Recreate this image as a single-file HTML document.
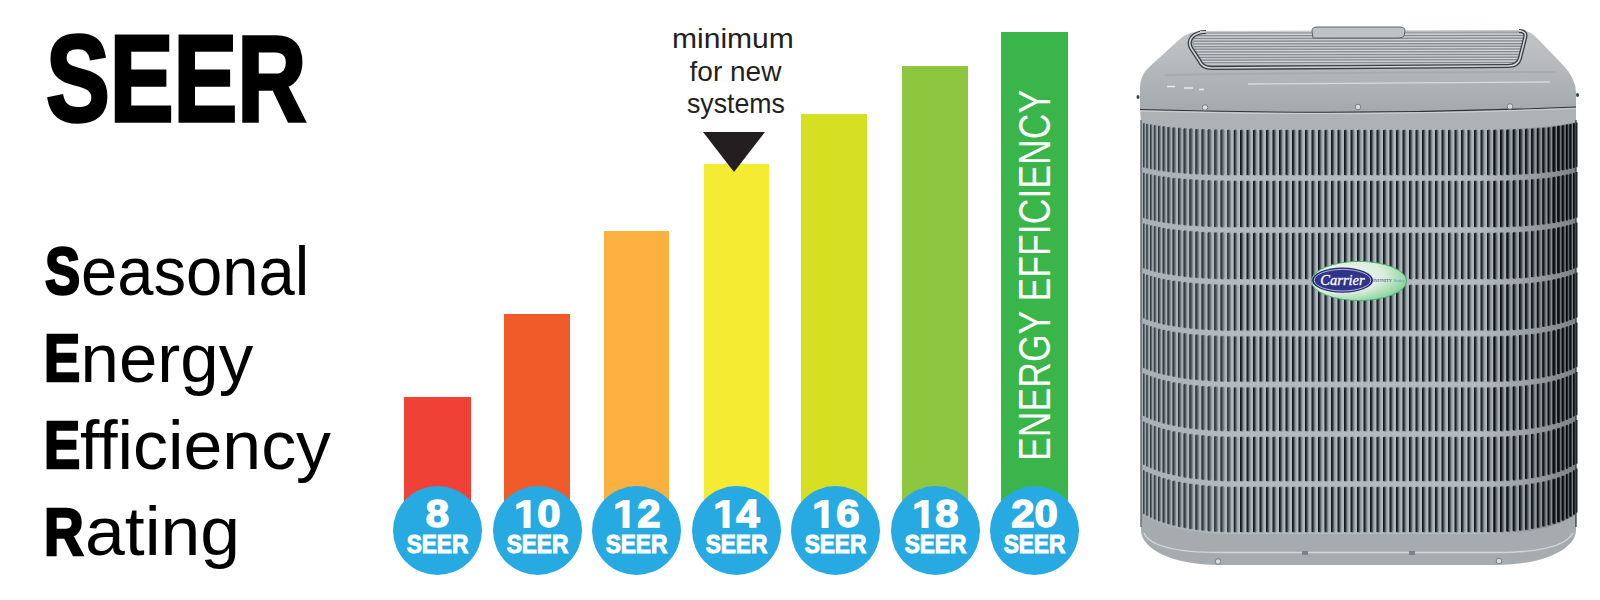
<!DOCTYPE html>
<html><head><meta charset="utf-8">
<style>
html,body{margin:0;padding:0;background:#fff;}
body{width:1600px;height:600px;overflow:hidden;position:relative;font-family:"Liberation Sans",sans-serif;}
.t{position:absolute;white-space:nowrap;line-height:1;transform-origin:0 0;}
#seer{left:45.5px;top:17px;font-size:123px;font-weight:bold;color:#000;transform:scaleX(0.777);-webkit-text-stroke:3.5px #000;}
.b{font-size:67px;font-weight:bold;color:#000;-webkit-text-stroke:2.6px #000;}
.r{font-size:69px;color:#000;}
.bar{position:absolute;bottom:90px;}
.c{position:absolute;top:485.5px;width:89px;height:89px;border-radius:50%;background:#27AAE1;color:#fff;font-weight:bold;text-align:center;}
.c .n{position:absolute;left:0;right:0;top:9.5px;font-size:38px;line-height:1;transform:scaleX(1.1);-webkit-text-stroke:1.5px #fff;}
.c .one{position:absolute;left:0;top:0;}
.c .n2{left:6.5px;right:auto;width:100px;}
.c .s{position:absolute;left:0;right:0;top:45.6px;font-size:26px;line-height:1;transform:scaleX(0.87);-webkit-text-stroke:1.1px #fff;}
.m{font-size:28px;color:#231F20;}
#tri{position:absolute;left:703px;top:132px;width:0;height:0;border-left:31.5px solid transparent;border-right:31.5px solid transparent;border-top:40px solid #231F20;}
#ee{position:absolute;left:1012.8px;top:461.2px;font-size:44.5px;color:#fff;transform-origin:0 0;transform:rotate(-90deg) scaleX(0.80);white-space:nowrap;line-height:1;}
</style></head><body>
<div class="t" id="seer">SEER</div>
<div class="t b" style="left:45.3px;top:237.3px;transform:scaleX(0.786)">S</div>
<div class="t r" style="left:81.2px;top:237.3px;transform:scaleX(0.944)">easonal</div>
<div class="t b" style="left:44px;top:323.8px;transform:scaleX(0.81)">E</div>
<div class="t r" style="left:80.6px;top:323.8px;transform:scaleX(1.0)">nergy</div>
<div class="t b" style="left:43.5px;top:410.5px;transform:scaleX(0.81)">E</div>
<div class="t r" style="left:80.3px;top:410.5px;transform:scaleX(1.012)">fficiency</div>
<div class="t b" style="left:43.5px;top:497.8px;transform:scaleX(0.82)">R</div>
<div class="t r" style="left:84.9px;top:496.8px;transform:scaleX(1.037)">ating</div>

<div class="bar" style="left:404px;width:67px;top:397px;background:#EF4136"></div>
<div class="bar" style="left:504px;width:66px;top:314px;background:#F15A29"></div>
<div class="bar" style="left:604px;width:65px;top:231px;background:#FBB040"></div>
<div class="bar" style="left:704px;width:65px;top:164px;background:#F5EB33"></div>
<div class="bar" style="left:801px;width:66px;top:114px;background:#D7DF23"></div>
<div class="bar" style="left:902px;width:66px;top:66px;background:#8DC63F"></div>
<div class="bar" style="left:1001px;width:67px;top:32px;background:#39B54A"></div>

<div id="tri"></div>
<div class="t m" style="left:672.3px;top:24.8px;transform:scaleX(1.073)">minimum</div>
<div class="t m" style="left:689.6px;top:57.6px">for new</div>
<div class="t m" style="left:687px;top:90px;transform:scaleX(0.954)">systems</div>
<div id="ee">ENERGY EFFICIENCY</div>

<div class="c" style="left:393px"><div class="n">8</div><div class="s">SEER</div></div>
<div class="c" style="left:492.5px"><svg class="one" width="89" height="89" viewBox="0 0 89 89"><path d="M37.6,13.9 L37.6,42 L30.6,42 L30.6,20.6 L23.4,23.6 L23.4,18.2 L31.2,13.9 Z" fill="#fff"/></svg><div class="n n2">0</div><div class="s">SEER</div></div>
<div class="c" style="left:592px"><svg class="one" width="89" height="89" viewBox="0 0 89 89"><path d="M37.6,13.9 L37.6,42 L30.6,42 L30.6,20.6 L23.4,23.6 L23.4,18.2 L31.2,13.9 Z" fill="#fff"/></svg><div class="n n2">2</div><div class="s">SEER</div></div>
<div class="c" style="left:691.5px"><svg class="one" width="89" height="89" viewBox="0 0 89 89"><path d="M37.6,13.9 L37.6,42 L30.6,42 L30.6,20.6 L23.4,23.6 L23.4,18.2 L31.2,13.9 Z" fill="#fff"/></svg><div class="n n2">4</div><div class="s">SEER</div></div>
<div class="c" style="left:791px"><svg class="one" width="89" height="89" viewBox="0 0 89 89"><path d="M37.6,13.9 L37.6,42 L30.6,42 L30.6,20.6 L23.4,23.6 L23.4,18.2 L31.2,13.9 Z" fill="#fff"/></svg><div class="n n2">6</div><div class="s">SEER</div></div>
<div class="c" style="left:890.5px"><svg class="one" width="89" height="89" viewBox="0 0 89 89"><path d="M37.6,13.9 L37.6,42 L30.6,42 L30.6,20.6 L23.4,23.6 L23.4,18.2 L31.2,13.9 Z" fill="#fff"/></svg><div class="n n2">8</div><div class="s">SEER</div></div>
<div class="c" style="left:990px"><div class="n">20</div><div class="s">SEER</div></div>

<!-- AC UNIT -->
<!-- AC START -->
<svg width="500" height="600" viewBox="1100 0 500 600" style="position:absolute;left:1100px;top:0">
<defs>
<linearGradient id="lidg" x1="0" x2="0" y1="0" y2="1"><stop offset="0" stop-color="#c3c6c9"/><stop offset="0.5" stop-color="#b3b7ba"/><stop offset="1" stop-color="#a4a9ad"/></linearGradient>
<linearGradient id="shadeH" x1="0" x2="1" y1="0" y2="0"><stop offset="0" stop-color="#000" stop-opacity="0.06"/><stop offset="0.2" stop-color="#000" stop-opacity="0"/><stop offset="0.78" stop-color="#000" stop-opacity="0"/><stop offset="1" stop-color="#000" stop-opacity="0.30"/></linearGradient>
<radialGradient id="logog" cx="0.3" cy="0.35" r="0.75"><stop offset="0" stop-color="#f2f5ee"/><stop offset="0.6" stop-color="#dbeedd"/><stop offset="1" stop-color="#86d39a"/></radialGradient>
</defs>
<path d="M1141.0,120.0 L1144.8,120.9 L1148.6,121.6 L1152.4,122.3 L1156.2,122.8 L1160.0,123.3 L1163.8,123.8 L1167.5,124.2 L1171.3,124.5 L1175.1,124.9 L1178.9,125.2 L1182.7,125.4 L1186.5,125.7 L1190.3,125.9 L1194.1,126.1 L1197.9,126.3 L1201.7,126.4 L1205.5,126.6 L1209.2,126.7 L1213.0,126.8 L1216.8,126.9 L1220.6,126.9 L1224.4,127.0 L1228.2,127.0 L1232.0,127.0 L1490.0,127.0 L1493.6,127.0 L1497.2,127.0 L1500.8,126.9 L1504.3,126.9 L1507.9,126.8 L1511.5,126.7 L1515.1,126.6 L1518.7,126.4 L1522.2,126.3 L1525.8,126.1 L1529.4,125.9 L1533.0,125.7 L1536.6,125.4 L1540.2,125.2 L1543.8,124.9 L1547.3,124.5 L1550.9,124.2 L1554.5,123.8 L1558.1,123.3 L1561.7,122.8 L1565.2,122.3 L1568.8,121.6 L1572.4,120.9 L1576.0,120.0 L1576.0,515.0 L1572.4,517.5 L1568.8,519.6 L1565.2,521.5 L1561.7,523.1 L1558.1,524.5 L1554.5,525.8 L1550.9,526.9 L1547.3,528.0 L1543.8,528.9 L1540.2,529.8 L1536.6,530.5 L1533.0,531.2 L1529.4,531.9 L1525.8,532.4 L1522.2,532.9 L1518.7,533.4 L1515.1,533.8 L1511.5,534.1 L1507.9,534.4 L1504.3,534.6 L1500.8,534.8 L1497.2,534.9 L1493.6,535.0 L1490.0,535.0 L1232.0,535.0 L1228.2,535.0 L1224.4,534.9 L1220.6,534.8 L1216.8,534.6 L1213.0,534.4 L1209.2,534.1 L1205.5,533.8 L1201.7,533.4 L1197.9,532.9 L1194.1,532.4 L1190.3,531.9 L1186.5,531.2 L1182.7,530.5 L1178.9,529.8 L1175.1,528.9 L1171.3,528.0 L1167.5,526.9 L1163.8,525.8 L1160.0,524.5 L1156.2,523.1 L1152.4,521.5 L1148.6,519.6 L1144.8,517.5 L1141.0,515.0 Z" fill="#b2babe"/>
<defs><pattern id="p0" patternUnits="userSpaceOnUse" x="1233.5" y="127.0" width="6.5" height="51.0"><rect x="0.0" y="2.2" width="4.1" height="46.6" rx="2.2" fill="#838e94"/><rect x="0.0" y="2.7" width="2.7" height="45.6" rx="1.4" fill="#4a555a"/><rect x="0.0" y="2.9" width="1.5" height="45.2" rx="0.7" fill="#11171a"/></pattern><pattern id="p1" patternUnits="userSpaceOnUse" x="1233.5" y="178.0" width="6.5" height="52.0"><rect x="0.0" y="2.2" width="4.1" height="47.6" rx="2.2" fill="#838e94"/><rect x="0.0" y="2.7" width="2.7" height="46.6" rx="1.4" fill="#4a555a"/><rect x="0.0" y="2.9" width="1.5" height="46.2" rx="0.7" fill="#11171a"/></pattern><pattern id="p2" patternUnits="userSpaceOnUse" x="1233.5" y="230.0" width="6.5" height="52.0"><rect x="0.0" y="2.2" width="4.1" height="47.6" rx="2.2" fill="#838e94"/><rect x="0.0" y="2.7" width="2.7" height="46.6" rx="1.4" fill="#4a555a"/><rect x="0.0" y="2.9" width="1.5" height="46.2" rx="0.7" fill="#11171a"/></pattern><pattern id="p3" patternUnits="userSpaceOnUse" x="1233.5" y="282.0" width="6.5" height="51.5"><rect x="0.0" y="2.2" width="4.1" height="47.1" rx="2.2" fill="#838e94"/><rect x="0.0" y="2.7" width="2.7" height="46.1" rx="1.4" fill="#4a555a"/><rect x="0.0" y="2.9" width="1.5" height="45.7" rx="0.7" fill="#11171a"/></pattern><pattern id="p4" patternUnits="userSpaceOnUse" x="1233.5" y="333.5" width="6.5" height="51.0"><rect x="0.0" y="2.2" width="4.1" height="46.6" rx="2.2" fill="#838e94"/><rect x="0.0" y="2.7" width="2.7" height="45.6" rx="1.4" fill="#4a555a"/><rect x="0.0" y="2.9" width="1.5" height="45.2" rx="0.7" fill="#11171a"/></pattern><pattern id="p5" patternUnits="userSpaceOnUse" x="1233.5" y="384.5" width="6.5" height="49.5"><rect x="0.0" y="2.2" width="4.1" height="45.1" rx="2.2" fill="#838e94"/><rect x="0.0" y="2.7" width="2.7" height="44.1" rx="1.4" fill="#4a555a"/><rect x="0.0" y="2.9" width="1.5" height="43.7" rx="0.7" fill="#11171a"/></pattern><pattern id="p6" patternUnits="userSpaceOnUse" x="1233.5" y="434.0" width="6.5" height="50.0"><rect x="0.0" y="2.2" width="4.1" height="45.6" rx="2.2" fill="#838e94"/><rect x="0.0" y="2.7" width="2.7" height="44.6" rx="1.4" fill="#4a555a"/><rect x="0.0" y="2.9" width="1.5" height="44.2" rx="0.7" fill="#11171a"/></pattern><pattern id="p7" patternUnits="userSpaceOnUse" x="1233.5" y="484.0" width="6.5" height="51.0"><rect x="0.0" y="2.2" width="4.1" height="46.6" rx="2.2" fill="#838e94"/><rect x="0.0" y="2.7" width="2.7" height="45.6" rx="1.4" fill="#4a555a"/><rect x="0.0" y="2.9" width="1.5" height="45.2" rx="0.7" fill="#11171a"/></pattern></defs>
<rect x="1233.5" y="127.0" width="260.0" height="51.0" fill="url(#p0)"/>
<rect x="1233.5" y="178.0" width="260.0" height="52.0" fill="url(#p1)"/>
<rect x="1233.5" y="230.0" width="260.0" height="52.0" fill="url(#p2)"/>
<rect x="1233.5" y="282.0" width="260.0" height="51.5" fill="url(#p3)"/>
<rect x="1233.5" y="333.5" width="260.0" height="51.0" fill="url(#p4)"/>
<rect x="1233.5" y="384.5" width="260.0" height="49.5" fill="url(#p5)"/>
<rect x="1233.5" y="434.0" width="260.0" height="50.0" fill="url(#p6)"/>
<rect x="1233.5" y="484.0" width="260.0" height="51.0" fill="url(#p7)"/>
<g fill="#7f898f"><rect x="1143.2" y="122.7" width="1.9" height="45.2" rx="1.0"/><rect x="1146.4" y="123.4" width="2.1" height="45.4" rx="1.1"/><rect x="1150.0" y="124.1" width="2.4" height="45.5" rx="1.3"/><rect x="1153.9" y="124.7" width="2.6" height="45.6" rx="1.4"/><rect x="1158.1" y="125.3" width="2.8" height="45.8" rx="1.5"/><rect x="1162.7" y="125.8" width="3.0" height="45.9" rx="1.6"/><rect x="1167.5" y="126.4" width="3.1" height="46.0" rx="1.7"/><rect x="1172.6" y="126.9" width="3.3" height="46.1" rx="1.8"/><rect x="1178.0" y="127.3" width="3.5" height="46.2" rx="1.9"/><rect x="1183.6" y="127.7" width="3.6" height="46.3" rx="1.9"/><rect x="1189.4" y="128.1" width="3.7" height="46.4" rx="2.0"/><rect x="1195.4" y="128.4" width="3.8" height="46.4" rx="2.0"/><rect x="1201.5" y="128.6" width="3.9" height="46.5" rx="2.1"/><rect x="1207.7" y="128.8" width="4.0" height="46.5" rx="2.1"/><rect x="1214.1" y="129.0" width="4.0" height="46.6" rx="2.2"/><rect x="1220.5" y="129.1" width="4.1" height="46.6" rx="2.2"/><rect x="1227.0" y="129.2" width="4.1" height="46.6" rx="2.2"/><rect x="1143.2" y="172.3" width="1.9" height="46.2" rx="1.0"/><rect x="1146.4" y="173.2" width="2.1" height="46.4" rx="1.1"/><rect x="1150.0" y="174.0" width="2.4" height="46.5" rx="1.3"/><rect x="1153.9" y="174.7" width="2.6" height="46.6" rx="1.4"/><rect x="1158.1" y="175.5" width="2.8" height="46.8" rx="1.5"/><rect x="1162.7" y="176.1" width="3.0" height="46.9" rx="1.6"/><rect x="1167.5" y="176.8" width="3.1" height="47.0" rx="1.7"/><rect x="1172.6" y="177.4" width="3.3" height="47.1" rx="1.8"/><rect x="1178.0" y="177.9" width="3.5" height="47.2" rx="1.9"/><rect x="1183.6" y="178.4" width="3.6" height="47.3" rx="1.9"/><rect x="1189.4" y="178.8" width="3.7" height="47.4" rx="2.0"/><rect x="1195.4" y="179.2" width="3.8" height="47.4" rx="2.0"/><rect x="1201.5" y="179.5" width="3.9" height="47.5" rx="2.1"/><rect x="1207.7" y="179.8" width="4.0" height="47.5" rx="2.1"/><rect x="1214.1" y="180.0" width="4.0" height="47.6" rx="2.2"/><rect x="1220.5" y="180.1" width="4.1" height="47.6" rx="2.2"/><rect x="1227.0" y="180.2" width="4.1" height="47.6" rx="2.2"/><rect x="1143.2" y="223.0" width="1.9" height="45.8" rx="1.0"/><rect x="1146.4" y="223.9" width="2.1" height="45.9" rx="1.1"/><rect x="1150.0" y="224.9" width="2.4" height="46.1" rx="1.3"/><rect x="1153.9" y="225.8" width="2.6" height="46.3" rx="1.4"/><rect x="1158.1" y="226.6" width="2.8" height="46.5" rx="1.5"/><rect x="1162.7" y="227.4" width="3.0" height="46.6" rx="1.6"/><rect x="1167.5" y="228.2" width="3.1" height="46.8" rx="1.7"/><rect x="1172.6" y="228.9" width="3.3" height="46.9" rx="1.8"/><rect x="1178.0" y="229.5" width="3.5" height="47.1" rx="1.9"/><rect x="1183.6" y="230.1" width="3.6" height="47.2" rx="1.9"/><rect x="1189.4" y="230.6" width="3.7" height="47.3" rx="2.0"/><rect x="1195.4" y="231.0" width="3.8" height="47.4" rx="2.0"/><rect x="1201.5" y="231.4" width="3.9" height="47.4" rx="2.1"/><rect x="1207.7" y="231.7" width="4.0" height="47.5" rx="2.1"/><rect x="1214.1" y="231.9" width="4.0" height="47.5" rx="2.2"/><rect x="1220.5" y="232.1" width="4.1" height="47.6" rx="2.2"/><rect x="1227.0" y="232.2" width="4.1" height="47.6" rx="2.2"/><rect x="1143.2" y="273.1" width="1.9" height="45.7" rx="1.0"/><rect x="1146.4" y="274.3" width="2.1" height="45.9" rx="1.1"/><rect x="1150.0" y="275.4" width="2.4" height="46.0" rx="1.3"/><rect x="1153.9" y="276.5" width="2.6" height="46.1" rx="1.4"/><rect x="1158.1" y="277.5" width="2.8" height="46.3" rx="1.5"/><rect x="1162.7" y="278.5" width="3.0" height="46.4" rx="1.6"/><rect x="1167.5" y="279.4" width="3.1" height="46.5" rx="1.7"/><rect x="1172.6" y="280.2" width="3.3" height="46.6" rx="1.8"/><rect x="1178.0" y="280.9" width="3.5" height="46.7" rx="1.9"/><rect x="1183.6" y="281.6" width="3.6" height="46.8" rx="1.9"/><rect x="1189.4" y="282.2" width="3.7" height="46.9" rx="2.0"/><rect x="1195.4" y="282.8" width="3.8" height="46.9" rx="2.0"/><rect x="1201.5" y="283.2" width="3.9" height="47.0" rx="2.1"/><rect x="1207.7" y="283.6" width="4.0" height="47.0" rx="2.1"/><rect x="1214.1" y="283.9" width="4.0" height="47.1" rx="2.2"/><rect x="1220.5" y="284.1" width="4.1" height="47.1" rx="2.2"/><rect x="1227.0" y="284.2" width="4.1" height="47.1" rx="2.2"/><rect x="1143.2" y="323.2" width="1.9" height="45.2" rx="1.0"/><rect x="1146.4" y="324.5" width="2.1" height="45.4" rx="1.1"/><rect x="1150.0" y="325.8" width="2.4" height="45.5" rx="1.3"/><rect x="1153.9" y="327.0" width="2.6" height="45.6" rx="1.4"/><rect x="1158.1" y="328.2" width="2.8" height="45.8" rx="1.5"/><rect x="1162.7" y="329.2" width="3.0" height="45.9" rx="1.6"/><rect x="1167.5" y="330.2" width="3.1" height="46.0" rx="1.7"/><rect x="1172.6" y="331.2" width="3.3" height="46.1" rx="1.8"/><rect x="1178.0" y="332.0" width="3.5" height="46.2" rx="1.9"/><rect x="1183.6" y="332.8" width="3.6" height="46.3" rx="1.9"/><rect x="1189.4" y="333.5" width="3.7" height="46.4" rx="2.0"/><rect x="1195.4" y="334.1" width="3.8" height="46.4" rx="2.0"/><rect x="1201.5" y="334.6" width="3.9" height="46.5" rx="2.1"/><rect x="1207.7" y="335.0" width="4.0" height="46.5" rx="2.1"/><rect x="1214.1" y="335.3" width="4.0" height="46.6" rx="2.2"/><rect x="1220.5" y="335.5" width="4.1" height="46.6" rx="2.2"/><rect x="1227.0" y="335.7" width="4.1" height="46.6" rx="2.2"/><rect x="1143.2" y="372.8" width="1.9" height="43.7" rx="1.0"/><rect x="1146.4" y="374.3" width="2.1" height="43.9" rx="1.1"/><rect x="1150.0" y="375.7" width="2.4" height="44.0" rx="1.3"/><rect x="1153.9" y="377.0" width="2.6" height="44.1" rx="1.4"/><rect x="1158.1" y="378.3" width="2.8" height="44.3" rx="1.5"/><rect x="1162.7" y="379.5" width="3.0" height="44.4" rx="1.6"/><rect x="1167.5" y="380.6" width="3.1" height="44.5" rx="1.7"/><rect x="1172.6" y="381.7" width="3.3" height="44.6" rx="1.8"/><rect x="1178.0" y="382.6" width="3.5" height="44.7" rx="1.9"/><rect x="1183.6" y="383.5" width="3.6" height="44.8" rx="1.9"/><rect x="1189.4" y="384.2" width="3.7" height="44.9" rx="2.0"/><rect x="1195.4" y="384.9" width="3.8" height="44.9" rx="2.0"/><rect x="1201.5" y="385.5" width="3.9" height="45.0" rx="2.1"/><rect x="1207.7" y="385.9" width="4.0" height="45.0" rx="2.1"/><rect x="1214.1" y="386.3" width="4.0" height="45.1" rx="2.2"/><rect x="1220.5" y="386.5" width="4.1" height="45.1" rx="2.2"/><rect x="1227.0" y="386.7" width="4.1" height="45.1" rx="2.2"/><rect x="1143.2" y="421.0" width="1.9" height="44.2" rx="1.0"/><rect x="1146.4" y="422.6" width="2.1" height="44.4" rx="1.1"/><rect x="1150.0" y="424.1" width="2.4" height="44.5" rx="1.3"/><rect x="1153.9" y="425.6" width="2.6" height="44.6" rx="1.4"/><rect x="1158.1" y="427.0" width="2.8" height="44.8" rx="1.5"/><rect x="1162.7" y="428.3" width="3.0" height="44.9" rx="1.6"/><rect x="1167.5" y="429.5" width="3.1" height="45.0" rx="1.7"/><rect x="1172.6" y="430.7" width="3.3" height="45.1" rx="1.8"/><rect x="1178.0" y="431.7" width="3.5" height="45.2" rx="1.9"/><rect x="1183.6" y="432.7" width="3.6" height="45.3" rx="1.9"/><rect x="1189.4" y="433.5" width="3.7" height="45.4" rx="2.0"/><rect x="1195.4" y="434.2" width="3.8" height="45.4" rx="2.0"/><rect x="1201.5" y="434.8" width="3.9" height="45.5" rx="2.1"/><rect x="1207.7" y="435.4" width="4.0" height="45.5" rx="2.1"/><rect x="1214.1" y="435.7" width="4.0" height="45.6" rx="2.2"/><rect x="1220.5" y="436.0" width="4.1" height="45.6" rx="2.2"/><rect x="1227.0" y="436.2" width="4.1" height="45.6" rx="2.2"/><rect x="1143.2" y="469.6" width="1.9" height="44.8" rx="1.0"/><rect x="1146.4" y="471.3" width="2.1" height="44.9" rx="1.1"/><rect x="1150.0" y="473.0" width="2.4" height="45.1" rx="1.3"/><rect x="1153.9" y="474.6" width="2.6" height="45.3" rx="1.4"/><rect x="1158.1" y="476.1" width="2.8" height="45.5" rx="1.5"/><rect x="1162.7" y="477.6" width="3.0" height="45.6" rx="1.6"/><rect x="1167.5" y="478.9" width="3.1" height="45.8" rx="1.7"/><rect x="1172.6" y="480.2" width="3.3" height="45.9" rx="1.8"/><rect x="1178.0" y="481.3" width="3.5" height="46.1" rx="1.9"/><rect x="1183.6" y="482.3" width="3.6" height="46.2" rx="1.9"/><rect x="1189.4" y="483.3" width="3.7" height="46.3" rx="2.0"/><rect x="1195.4" y="484.1" width="3.8" height="46.4" rx="2.0"/><rect x="1201.5" y="484.7" width="3.9" height="46.4" rx="2.1"/><rect x="1207.7" y="485.3" width="4.0" height="46.5" rx="2.1"/><rect x="1214.1" y="485.7" width="4.0" height="46.5" rx="2.2"/><rect x="1220.5" y="486.0" width="4.1" height="46.6" rx="2.2"/><rect x="1227.0" y="486.2" width="4.1" height="46.6" rx="2.2"/></g>
<g fill="#3a4246"><rect x="1552.7" y="126.2" width="3.1" height="46.0" rx="1.7"/><rect x="1557.4" y="125.6" width="2.9" height="45.8" rx="1.5"/><rect x="1561.8" y="125.0" width="2.7" height="45.7" rx="1.4"/><rect x="1565.9" y="124.3" width="2.5" height="45.6" rx="1.3"/><rect x="1569.6" y="123.7" width="2.2" height="45.4" rx="1.2"/><rect x="1573.0" y="123.0" width="2.0" height="45.3" rx="1.1"/><rect x="1575.9" y="122.2" width="1.7" height="45.1" rx="0.9"/><rect x="1552.7" y="176.5" width="3.1" height="47.0" rx="1.7"/><rect x="1557.4" y="175.8" width="2.9" height="46.8" rx="1.5"/><rect x="1561.8" y="175.1" width="2.7" height="46.7" rx="1.4"/><rect x="1565.9" y="174.3" width="2.5" height="46.6" rx="1.3"/><rect x="1569.6" y="173.5" width="2.2" height="46.4" rx="1.2"/><rect x="1573.0" y="172.6" width="2.0" height="46.3" rx="1.1"/><rect x="1575.9" y="171.7" width="1.7" height="46.1" rx="0.9"/><rect x="1552.7" y="227.9" width="3.1" height="46.7" rx="1.7"/><rect x="1557.4" y="227.1" width="2.9" height="46.6" rx="1.5"/><rect x="1561.8" y="226.2" width="2.7" height="46.4" rx="1.4"/><rect x="1565.9" y="225.3" width="2.5" height="46.2" rx="1.3"/><rect x="1569.6" y="224.3" width="2.2" height="46.0" rx="1.2"/><rect x="1573.0" y="223.3" width="2.0" height="45.8" rx="1.1"/><rect x="1575.9" y="222.2" width="1.7" height="45.6" rx="0.9"/><rect x="1552.7" y="279.0" width="3.1" height="46.5" rx="1.7"/><rect x="1557.4" y="278.0" width="2.9" height="46.3" rx="1.5"/><rect x="1561.8" y="277.0" width="2.7" height="46.2" rx="1.4"/><rect x="1565.9" y="275.9" width="2.5" height="46.1" rx="1.3"/><rect x="1569.6" y="274.7" width="2.2" height="45.9" rx="1.2"/><rect x="1573.0" y="273.5" width="2.0" height="45.8" rx="1.1"/><rect x="1575.9" y="272.2" width="1.7" height="45.6" rx="0.9"/><rect x="1552.7" y="329.9" width="3.1" height="46.0" rx="1.7"/><rect x="1557.4" y="328.8" width="2.9" height="45.8" rx="1.5"/><rect x="1561.8" y="327.6" width="2.7" height="45.7" rx="1.4"/><rect x="1565.9" y="326.3" width="2.5" height="45.6" rx="1.3"/><rect x="1569.6" y="325.0" width="2.2" height="45.4" rx="1.2"/><rect x="1573.0" y="323.7" width="2.0" height="45.3" rx="1.1"/><rect x="1575.9" y="322.2" width="1.7" height="45.1" rx="0.9"/><rect x="1552.7" y="380.2" width="3.1" height="44.5" rx="1.7"/><rect x="1557.4" y="379.0" width="2.9" height="44.3" rx="1.5"/><rect x="1561.8" y="377.7" width="2.7" height="44.2" rx="1.4"/><rect x="1565.9" y="376.3" width="2.5" height="44.1" rx="1.3"/><rect x="1569.6" y="374.8" width="2.2" height="43.9" rx="1.2"/><rect x="1573.0" y="373.3" width="2.0" height="43.8" rx="1.1"/><rect x="1575.9" y="371.7" width="1.7" height="43.6" rx="0.9"/><rect x="1552.7" y="429.1" width="3.1" height="45.0" rx="1.7"/><rect x="1557.4" y="427.7" width="2.9" height="44.8" rx="1.5"/><rect x="1561.8" y="426.3" width="2.7" height="44.7" rx="1.4"/><rect x="1565.9" y="424.8" width="2.5" height="44.6" rx="1.3"/><rect x="1569.6" y="423.2" width="2.2" height="44.4" rx="1.2"/><rect x="1573.0" y="421.5" width="2.0" height="44.3" rx="1.1"/><rect x="1575.9" y="419.7" width="1.7" height="44.1" rx="0.9"/><rect x="1552.7" y="478.4" width="3.1" height="45.7" rx="1.7"/><rect x="1557.4" y="477.0" width="2.9" height="45.6" rx="1.5"/><rect x="1561.8" y="475.4" width="2.7" height="45.4" rx="1.4"/><rect x="1565.9" y="473.7" width="2.5" height="45.2" rx="1.3"/><rect x="1569.6" y="472.0" width="2.2" height="45.0" rx="1.2"/><rect x="1573.0" y="470.1" width="2.0" height="44.8" rx="1.1"/><rect x="1575.9" y="468.2" width="1.7" height="44.6" rx="0.9"/></g>
<g fill="#7a848a"><rect x="1493.5" y="129.2" width="4.1" height="46.6" rx="2.2"/><rect x="1500.0" y="129.1" width="4.1" height="46.6" rx="2.2"/><rect x="1506.4" y="129.0" width="4.0" height="46.6" rx="2.2"/><rect x="1512.8" y="128.8" width="4.0" height="46.5" rx="2.1"/><rect x="1519.0" y="128.6" width="3.9" height="46.5" rx="2.1"/><rect x="1525.1" y="128.3" width="3.8" height="46.4" rx="2.0"/><rect x="1531.1" y="128.0" width="3.7" height="46.3" rx="2.0"/><rect x="1536.9" y="127.6" width="3.6" height="46.3" rx="1.9"/><rect x="1542.4" y="127.2" width="3.4" height="46.2" rx="1.8"/><rect x="1547.7" y="126.7" width="3.3" height="46.1" rx="1.7"/><rect x="1493.5" y="180.2" width="4.1" height="47.6" rx="2.2"/><rect x="1500.0" y="180.1" width="4.1" height="47.6" rx="2.2"/><rect x="1506.4" y="180.0" width="4.0" height="47.6" rx="2.2"/><rect x="1512.8" y="179.8" width="4.0" height="47.5" rx="2.1"/><rect x="1519.0" y="179.5" width="3.9" height="47.5" rx="2.1"/><rect x="1525.1" y="179.2" width="3.8" height="47.4" rx="2.0"/><rect x="1531.1" y="178.7" width="3.7" height="47.3" rx="2.0"/><rect x="1536.9" y="178.3" width="3.6" height="47.3" rx="1.9"/><rect x="1542.4" y="177.8" width="3.4" height="47.2" rx="1.8"/><rect x="1547.7" y="177.2" width="3.3" height="47.1" rx="1.7"/><rect x="1493.5" y="232.2" width="4.1" height="47.6" rx="2.2"/><rect x="1500.0" y="232.1" width="4.1" height="47.6" rx="2.2"/><rect x="1506.4" y="231.9" width="4.0" height="47.5" rx="2.2"/><rect x="1512.8" y="231.7" width="4.0" height="47.5" rx="2.1"/><rect x="1519.0" y="231.4" width="3.9" height="47.4" rx="2.1"/><rect x="1525.1" y="231.0" width="3.8" height="47.4" rx="2.0"/><rect x="1531.1" y="230.5" width="3.7" height="47.3" rx="2.0"/><rect x="1536.9" y="229.9" width="3.6" height="47.1" rx="1.9"/><rect x="1542.4" y="229.3" width="3.4" height="47.0" rx="1.8"/><rect x="1547.7" y="228.6" width="3.3" height="46.9" rx="1.7"/><rect x="1493.5" y="284.2" width="4.1" height="47.1" rx="2.2"/><rect x="1500.0" y="284.1" width="4.1" height="47.1" rx="2.2"/><rect x="1506.4" y="283.9" width="4.0" height="47.1" rx="2.2"/><rect x="1512.8" y="283.6" width="4.0" height="47.0" rx="2.1"/><rect x="1519.0" y="283.2" width="3.9" height="47.0" rx="2.1"/><rect x="1525.1" y="282.7" width="3.8" height="46.9" rx="2.0"/><rect x="1531.1" y="282.2" width="3.7" height="46.8" rx="2.0"/><rect x="1536.9" y="281.5" width="3.6" height="46.8" rx="1.9"/><rect x="1542.4" y="280.7" width="3.4" height="46.7" rx="1.8"/><rect x="1547.7" y="279.9" width="3.3" height="46.6" rx="1.7"/><rect x="1493.5" y="335.7" width="4.1" height="46.6" rx="2.2"/><rect x="1500.0" y="335.6" width="4.1" height="46.6" rx="2.2"/><rect x="1506.4" y="335.3" width="4.0" height="46.6" rx="2.2"/><rect x="1512.8" y="335.0" width="4.0" height="46.5" rx="2.1"/><rect x="1519.0" y="334.6" width="3.9" height="46.5" rx="2.1"/><rect x="1525.1" y="334.0" width="3.8" height="46.4" rx="2.0"/><rect x="1531.1" y="333.4" width="3.7" height="46.3" rx="2.0"/><rect x="1536.9" y="332.7" width="3.6" height="46.3" rx="1.9"/><rect x="1542.4" y="331.8" width="3.4" height="46.2" rx="1.8"/><rect x="1547.7" y="330.9" width="3.3" height="46.1" rx="1.7"/><rect x="1493.5" y="386.7" width="4.1" height="45.1" rx="2.2"/><rect x="1500.0" y="386.6" width="4.1" height="45.1" rx="2.2"/><rect x="1506.4" y="386.3" width="4.0" height="45.1" rx="2.2"/><rect x="1512.8" y="385.9" width="4.0" height="45.0" rx="2.1"/><rect x="1519.0" y="385.5" width="3.9" height="45.0" rx="2.1"/><rect x="1525.1" y="384.9" width="3.8" height="44.9" rx="2.0"/><rect x="1531.1" y="384.1" width="3.7" height="44.8" rx="2.0"/><rect x="1536.9" y="383.3" width="3.6" height="44.8" rx="1.9"/><rect x="1542.4" y="382.4" width="3.4" height="44.7" rx="1.8"/><rect x="1547.7" y="381.3" width="3.3" height="44.6" rx="1.7"/><rect x="1493.5" y="436.2" width="4.1" height="45.6" rx="2.2"/><rect x="1500.0" y="436.0" width="4.1" height="45.6" rx="2.2"/><rect x="1506.4" y="435.8" width="4.0" height="45.6" rx="2.2"/><rect x="1512.8" y="435.4" width="4.0" height="45.5" rx="2.1"/><rect x="1519.0" y="434.8" width="3.9" height="45.5" rx="2.1"/><rect x="1525.1" y="434.2" width="3.8" height="45.4" rx="2.0"/><rect x="1531.1" y="433.4" width="3.7" height="45.3" rx="2.0"/><rect x="1536.9" y="432.5" width="3.6" height="45.3" rx="1.9"/><rect x="1542.4" y="431.4" width="3.4" height="45.2" rx="1.8"/><rect x="1547.7" y="430.3" width="3.3" height="45.1" rx="1.7"/><rect x="1493.5" y="486.2" width="4.1" height="46.6" rx="2.2"/><rect x="1500.0" y="486.0" width="4.1" height="46.6" rx="2.2"/><rect x="1506.4" y="485.7" width="4.0" height="46.5" rx="2.2"/><rect x="1512.8" y="485.3" width="4.0" height="46.5" rx="2.1"/><rect x="1519.0" y="484.7" width="3.9" height="46.4" rx="2.1"/><rect x="1525.1" y="484.0" width="3.8" height="46.4" rx="2.0"/><rect x="1531.1" y="483.1" width="3.7" height="46.3" rx="2.0"/><rect x="1536.9" y="482.1" width="3.6" height="46.1" rx="1.9"/><rect x="1542.4" y="481.0" width="3.4" height="46.0" rx="1.8"/><rect x="1547.7" y="479.8" width="3.3" height="45.9" rx="1.7"/></g>
<g fill="#545e64"><rect x="1143.2" y="123.2" width="1.3" height="44.2" rx="0.7"/><rect x="1146.4" y="123.9" width="1.4" height="44.4" rx="0.7"/><rect x="1150.0" y="124.6" width="1.6" height="44.5" rx="0.8"/><rect x="1153.9" y="125.2" width="1.7" height="44.6" rx="0.9"/><rect x="1158.1" y="125.8" width="1.8" height="44.8" rx="0.9"/><rect x="1162.7" y="126.3" width="2.0" height="44.9" rx="1.0"/><rect x="1167.5" y="126.9" width="2.1" height="45.0" rx="1.1"/><rect x="1172.6" y="127.4" width="2.2" height="45.1" rx="1.1"/><rect x="1178.0" y="127.8" width="2.3" height="45.2" rx="1.2"/><rect x="1183.6" y="128.2" width="2.4" height="45.3" rx="1.2"/><rect x="1189.4" y="128.6" width="2.4" height="45.4" rx="1.3"/><rect x="1195.4" y="128.9" width="2.5" height="45.4" rx="1.3"/><rect x="1201.5" y="129.1" width="2.6" height="45.5" rx="1.3"/><rect x="1207.7" y="129.3" width="2.6" height="45.5" rx="1.4"/><rect x="1214.1" y="129.5" width="2.7" height="45.6" rx="1.4"/><rect x="1220.5" y="129.6" width="2.7" height="45.6" rx="1.4"/><rect x="1227.0" y="129.7" width="2.7" height="45.6" rx="1.4"/><rect x="1143.2" y="172.8" width="1.3" height="45.2" rx="0.7"/><rect x="1146.4" y="173.7" width="1.4" height="45.4" rx="0.7"/><rect x="1150.0" y="174.5" width="1.6" height="45.5" rx="0.8"/><rect x="1153.9" y="175.2" width="1.7" height="45.6" rx="0.9"/><rect x="1158.1" y="176.0" width="1.8" height="45.8" rx="0.9"/><rect x="1162.7" y="176.6" width="2.0" height="45.9" rx="1.0"/><rect x="1167.5" y="177.3" width="2.1" height="46.0" rx="1.1"/><rect x="1172.6" y="177.9" width="2.2" height="46.1" rx="1.1"/><rect x="1178.0" y="178.4" width="2.3" height="46.2" rx="1.2"/><rect x="1183.6" y="178.9" width="2.4" height="46.3" rx="1.2"/><rect x="1189.4" y="179.3" width="2.4" height="46.4" rx="1.3"/><rect x="1195.4" y="179.7" width="2.5" height="46.4" rx="1.3"/><rect x="1201.5" y="180.0" width="2.6" height="46.5" rx="1.3"/><rect x="1207.7" y="180.3" width="2.6" height="46.5" rx="1.4"/><rect x="1214.1" y="180.5" width="2.7" height="46.6" rx="1.4"/><rect x="1220.5" y="180.6" width="2.7" height="46.6" rx="1.4"/><rect x="1227.0" y="180.7" width="2.7" height="46.6" rx="1.4"/><rect x="1143.2" y="223.5" width="1.3" height="44.8" rx="0.7"/><rect x="1146.4" y="224.4" width="1.4" height="44.9" rx="0.7"/><rect x="1150.0" y="225.4" width="1.6" height="45.1" rx="0.8"/><rect x="1153.9" y="226.3" width="1.7" height="45.3" rx="0.9"/><rect x="1158.1" y="227.1" width="1.8" height="45.5" rx="0.9"/><rect x="1162.7" y="227.9" width="2.0" height="45.6" rx="1.0"/><rect x="1167.5" y="228.7" width="2.1" height="45.8" rx="1.1"/><rect x="1172.6" y="229.4" width="2.2" height="45.9" rx="1.1"/><rect x="1178.0" y="230.0" width="2.3" height="46.1" rx="1.2"/><rect x="1183.6" y="230.6" width="2.4" height="46.2" rx="1.2"/><rect x="1189.4" y="231.1" width="2.4" height="46.3" rx="1.3"/><rect x="1195.4" y="231.5" width="2.5" height="46.4" rx="1.3"/><rect x="1201.5" y="231.9" width="2.6" height="46.4" rx="1.3"/><rect x="1207.7" y="232.2" width="2.6" height="46.5" rx="1.4"/><rect x="1214.1" y="232.4" width="2.7" height="46.5" rx="1.4"/><rect x="1220.5" y="232.6" width="2.7" height="46.6" rx="1.4"/><rect x="1227.0" y="232.7" width="2.7" height="46.6" rx="1.4"/><rect x="1143.2" y="273.6" width="1.3" height="44.7" rx="0.7"/><rect x="1146.4" y="274.8" width="1.4" height="44.9" rx="0.7"/><rect x="1150.0" y="275.9" width="1.6" height="45.0" rx="0.8"/><rect x="1153.9" y="277.0" width="1.7" height="45.1" rx="0.9"/><rect x="1158.1" y="278.0" width="1.8" height="45.3" rx="0.9"/><rect x="1162.7" y="279.0" width="2.0" height="45.4" rx="1.0"/><rect x="1167.5" y="279.9" width="2.1" height="45.5" rx="1.1"/><rect x="1172.6" y="280.7" width="2.2" height="45.6" rx="1.1"/><rect x="1178.0" y="281.4" width="2.3" height="45.7" rx="1.2"/><rect x="1183.6" y="282.1" width="2.4" height="45.8" rx="1.2"/><rect x="1189.4" y="282.7" width="2.4" height="45.9" rx="1.3"/><rect x="1195.4" y="283.3" width="2.5" height="45.9" rx="1.3"/><rect x="1201.5" y="283.7" width="2.6" height="46.0" rx="1.3"/><rect x="1207.7" y="284.1" width="2.6" height="46.0" rx="1.4"/><rect x="1214.1" y="284.4" width="2.7" height="46.1" rx="1.4"/><rect x="1220.5" y="284.6" width="2.7" height="46.1" rx="1.4"/><rect x="1227.0" y="284.7" width="2.7" height="46.1" rx="1.4"/><rect x="1143.2" y="323.7" width="1.3" height="44.2" rx="0.7"/><rect x="1146.4" y="325.0" width="1.4" height="44.4" rx="0.7"/><rect x="1150.0" y="326.3" width="1.6" height="44.5" rx="0.8"/><rect x="1153.9" y="327.5" width="1.7" height="44.6" rx="0.9"/><rect x="1158.1" y="328.7" width="1.8" height="44.8" rx="0.9"/><rect x="1162.7" y="329.7" width="2.0" height="44.9" rx="1.0"/><rect x="1167.5" y="330.7" width="2.1" height="45.0" rx="1.1"/><rect x="1172.6" y="331.7" width="2.2" height="45.1" rx="1.1"/><rect x="1178.0" y="332.5" width="2.3" height="45.2" rx="1.2"/><rect x="1183.6" y="333.3" width="2.4" height="45.3" rx="1.2"/><rect x="1189.4" y="334.0" width="2.4" height="45.4" rx="1.3"/><rect x="1195.4" y="334.6" width="2.5" height="45.4" rx="1.3"/><rect x="1201.5" y="335.1" width="2.6" height="45.5" rx="1.3"/><rect x="1207.7" y="335.5" width="2.6" height="45.5" rx="1.4"/><rect x="1214.1" y="335.8" width="2.7" height="45.6" rx="1.4"/><rect x="1220.5" y="336.0" width="2.7" height="45.6" rx="1.4"/><rect x="1227.0" y="336.2" width="2.7" height="45.6" rx="1.4"/><rect x="1143.2" y="373.3" width="1.3" height="42.7" rx="0.7"/><rect x="1146.4" y="374.8" width="1.4" height="42.9" rx="0.7"/><rect x="1150.0" y="376.2" width="1.6" height="43.0" rx="0.8"/><rect x="1153.9" y="377.5" width="1.7" height="43.1" rx="0.9"/><rect x="1158.1" y="378.8" width="1.8" height="43.3" rx="0.9"/><rect x="1162.7" y="380.0" width="2.0" height="43.4" rx="1.0"/><rect x="1167.5" y="381.1" width="2.1" height="43.5" rx="1.1"/><rect x="1172.6" y="382.2" width="2.2" height="43.6" rx="1.1"/><rect x="1178.0" y="383.1" width="2.3" height="43.7" rx="1.2"/><rect x="1183.6" y="384.0" width="2.4" height="43.8" rx="1.2"/><rect x="1189.4" y="384.7" width="2.4" height="43.9" rx="1.3"/><rect x="1195.4" y="385.4" width="2.5" height="43.9" rx="1.3"/><rect x="1201.5" y="386.0" width="2.6" height="44.0" rx="1.3"/><rect x="1207.7" y="386.4" width="2.6" height="44.0" rx="1.4"/><rect x="1214.1" y="386.8" width="2.7" height="44.1" rx="1.4"/><rect x="1220.5" y="387.0" width="2.7" height="44.1" rx="1.4"/><rect x="1227.0" y="387.2" width="2.7" height="44.1" rx="1.4"/><rect x="1143.2" y="421.5" width="1.3" height="43.2" rx="0.7"/><rect x="1146.4" y="423.1" width="1.4" height="43.4" rx="0.7"/><rect x="1150.0" y="424.6" width="1.6" height="43.5" rx="0.8"/><rect x="1153.9" y="426.1" width="1.7" height="43.6" rx="0.9"/><rect x="1158.1" y="427.5" width="1.8" height="43.8" rx="0.9"/><rect x="1162.7" y="428.8" width="2.0" height="43.9" rx="1.0"/><rect x="1167.5" y="430.0" width="2.1" height="44.0" rx="1.1"/><rect x="1172.6" y="431.2" width="2.2" height="44.1" rx="1.1"/><rect x="1178.0" y="432.2" width="2.3" height="44.2" rx="1.2"/><rect x="1183.6" y="433.2" width="2.4" height="44.3" rx="1.2"/><rect x="1189.4" y="434.0" width="2.4" height="44.4" rx="1.3"/><rect x="1195.4" y="434.7" width="2.5" height="44.4" rx="1.3"/><rect x="1201.5" y="435.3" width="2.6" height="44.5" rx="1.3"/><rect x="1207.7" y="435.9" width="2.6" height="44.5" rx="1.4"/><rect x="1214.1" y="436.2" width="2.7" height="44.6" rx="1.4"/><rect x="1220.5" y="436.5" width="2.7" height="44.6" rx="1.4"/><rect x="1227.0" y="436.7" width="2.7" height="44.6" rx="1.4"/><rect x="1143.2" y="470.1" width="1.3" height="43.8" rx="0.7"/><rect x="1146.4" y="471.8" width="1.4" height="43.9" rx="0.7"/><rect x="1150.0" y="473.5" width="1.6" height="44.1" rx="0.8"/><rect x="1153.9" y="475.1" width="1.7" height="44.3" rx="0.9"/><rect x="1158.1" y="476.6" width="1.8" height="44.5" rx="0.9"/><rect x="1162.7" y="478.1" width="2.0" height="44.6" rx="1.0"/><rect x="1167.5" y="479.4" width="2.1" height="44.8" rx="1.1"/><rect x="1172.6" y="480.7" width="2.2" height="44.9" rx="1.1"/><rect x="1178.0" y="481.8" width="2.3" height="45.1" rx="1.2"/><rect x="1183.6" y="482.8" width="2.4" height="45.2" rx="1.2"/><rect x="1189.4" y="483.8" width="2.4" height="45.3" rx="1.3"/><rect x="1195.4" y="484.6" width="2.5" height="45.4" rx="1.3"/><rect x="1201.5" y="485.2" width="2.6" height="45.4" rx="1.3"/><rect x="1207.7" y="485.8" width="2.6" height="45.5" rx="1.4"/><rect x="1214.1" y="486.2" width="2.7" height="45.5" rx="1.4"/><rect x="1220.5" y="486.5" width="2.7" height="45.6" rx="1.4"/><rect x="1227.0" y="486.7" width="2.7" height="45.6" rx="1.4"/></g>
<g fill="#161b1e"><rect x="1552.7" y="126.7" width="2.0" height="45.0" rx="1.1"/><rect x="1557.4" y="126.1" width="1.9" height="44.8" rx="1.0"/><rect x="1561.8" y="125.5" width="1.8" height="44.7" rx="0.9"/><rect x="1565.9" y="124.8" width="1.6" height="44.6" rx="0.8"/><rect x="1569.6" y="124.2" width="1.5" height="44.4" rx="0.8"/><rect x="1573.0" y="123.5" width="1.3" height="44.3" rx="0.7"/><rect x="1575.9" y="122.7" width="1.1" height="44.1" rx="0.6"/><rect x="1552.7" y="177.0" width="2.0" height="46.0" rx="1.1"/><rect x="1557.4" y="176.3" width="1.9" height="45.8" rx="1.0"/><rect x="1561.8" y="175.6" width="1.8" height="45.7" rx="0.9"/><rect x="1565.9" y="174.8" width="1.6" height="45.6" rx="0.8"/><rect x="1569.6" y="174.0" width="1.5" height="45.4" rx="0.8"/><rect x="1573.0" y="173.1" width="1.3" height="45.3" rx="0.7"/><rect x="1575.9" y="172.2" width="1.1" height="45.1" rx="0.6"/><rect x="1552.7" y="228.4" width="2.0" height="45.7" rx="1.1"/><rect x="1557.4" y="227.6" width="1.9" height="45.6" rx="1.0"/><rect x="1561.8" y="226.7" width="1.8" height="45.4" rx="0.9"/><rect x="1565.9" y="225.8" width="1.6" height="45.2" rx="0.8"/><rect x="1569.6" y="224.8" width="1.5" height="45.0" rx="0.8"/><rect x="1573.0" y="223.8" width="1.3" height="44.8" rx="0.7"/><rect x="1575.9" y="222.7" width="1.1" height="44.6" rx="0.6"/><rect x="1552.7" y="279.5" width="2.0" height="45.5" rx="1.1"/><rect x="1557.4" y="278.5" width="1.9" height="45.3" rx="1.0"/><rect x="1561.8" y="277.5" width="1.8" height="45.2" rx="0.9"/><rect x="1565.9" y="276.4" width="1.6" height="45.1" rx="0.8"/><rect x="1569.6" y="275.2" width="1.5" height="44.9" rx="0.8"/><rect x="1573.0" y="274.0" width="1.3" height="44.8" rx="0.7"/><rect x="1575.9" y="272.7" width="1.1" height="44.6" rx="0.6"/><rect x="1552.7" y="330.4" width="2.0" height="45.0" rx="1.1"/><rect x="1557.4" y="329.3" width="1.9" height="44.8" rx="1.0"/><rect x="1561.8" y="328.1" width="1.8" height="44.7" rx="0.9"/><rect x="1565.9" y="326.8" width="1.6" height="44.6" rx="0.8"/><rect x="1569.6" y="325.5" width="1.5" height="44.4" rx="0.8"/><rect x="1573.0" y="324.2" width="1.3" height="44.3" rx="0.7"/><rect x="1575.9" y="322.7" width="1.1" height="44.1" rx="0.6"/><rect x="1552.7" y="380.7" width="2.0" height="43.5" rx="1.1"/><rect x="1557.4" y="379.5" width="1.9" height="43.3" rx="1.0"/><rect x="1561.8" y="378.2" width="1.8" height="43.2" rx="0.9"/><rect x="1565.9" y="376.8" width="1.6" height="43.1" rx="0.8"/><rect x="1569.6" y="375.3" width="1.5" height="42.9" rx="0.8"/><rect x="1573.0" y="373.8" width="1.3" height="42.8" rx="0.7"/><rect x="1575.9" y="372.2" width="1.1" height="42.6" rx="0.6"/><rect x="1552.7" y="429.6" width="2.0" height="44.0" rx="1.1"/><rect x="1557.4" y="428.2" width="1.9" height="43.8" rx="1.0"/><rect x="1561.8" y="426.8" width="1.8" height="43.7" rx="0.9"/><rect x="1565.9" y="425.3" width="1.6" height="43.6" rx="0.8"/><rect x="1569.6" y="423.7" width="1.5" height="43.4" rx="0.8"/><rect x="1573.0" y="422.0" width="1.3" height="43.3" rx="0.7"/><rect x="1575.9" y="420.2" width="1.1" height="43.1" rx="0.6"/><rect x="1552.7" y="478.9" width="2.0" height="44.7" rx="1.1"/><rect x="1557.4" y="477.5" width="1.9" height="44.6" rx="1.0"/><rect x="1561.8" y="475.9" width="1.8" height="44.4" rx="0.9"/><rect x="1565.9" y="474.2" width="1.6" height="44.2" rx="0.8"/><rect x="1569.6" y="472.5" width="1.5" height="44.0" rx="0.8"/><rect x="1573.0" y="470.6" width="1.3" height="43.8" rx="0.7"/><rect x="1575.9" y="468.7" width="1.1" height="43.6" rx="0.6"/></g>
<g fill="#3b454a"><rect x="1493.5" y="129.7" width="2.7" height="45.6" rx="1.4"/><rect x="1500.0" y="129.6" width="2.7" height="45.6" rx="1.4"/><rect x="1506.4" y="129.5" width="2.7" height="45.6" rx="1.4"/><rect x="1512.8" y="129.3" width="2.6" height="45.5" rx="1.4"/><rect x="1519.0" y="129.1" width="2.6" height="45.5" rx="1.3"/><rect x="1525.1" y="128.8" width="2.5" height="45.4" rx="1.3"/><rect x="1531.1" y="128.5" width="2.4" height="45.3" rx="1.3"/><rect x="1536.9" y="128.1" width="2.3" height="45.3" rx="1.2"/><rect x="1542.4" y="127.7" width="2.3" height="45.2" rx="1.2"/><rect x="1547.7" y="127.2" width="2.1" height="45.1" rx="1.1"/><rect x="1493.5" y="180.7" width="2.7" height="46.6" rx="1.4"/><rect x="1500.0" y="180.6" width="2.7" height="46.6" rx="1.4"/><rect x="1506.4" y="180.5" width="2.7" height="46.6" rx="1.4"/><rect x="1512.8" y="180.3" width="2.6" height="46.5" rx="1.4"/><rect x="1519.0" y="180.0" width="2.6" height="46.5" rx="1.3"/><rect x="1525.1" y="179.7" width="2.5" height="46.4" rx="1.3"/><rect x="1531.1" y="179.2" width="2.4" height="46.3" rx="1.3"/><rect x="1536.9" y="178.8" width="2.3" height="46.3" rx="1.2"/><rect x="1542.4" y="178.3" width="2.3" height="46.2" rx="1.2"/><rect x="1547.7" y="177.7" width="2.1" height="46.1" rx="1.1"/><rect x="1493.5" y="232.7" width="2.7" height="46.6" rx="1.4"/><rect x="1500.0" y="232.6" width="2.7" height="46.6" rx="1.4"/><rect x="1506.4" y="232.4" width="2.7" height="46.5" rx="1.4"/><rect x="1512.8" y="232.2" width="2.6" height="46.5" rx="1.4"/><rect x="1519.0" y="231.9" width="2.6" height="46.4" rx="1.3"/><rect x="1525.1" y="231.5" width="2.5" height="46.4" rx="1.3"/><rect x="1531.1" y="231.0" width="2.4" height="46.3" rx="1.3"/><rect x="1536.9" y="230.4" width="2.3" height="46.1" rx="1.2"/><rect x="1542.4" y="229.8" width="2.3" height="46.0" rx="1.2"/><rect x="1547.7" y="229.1" width="2.1" height="45.9" rx="1.1"/><rect x="1493.5" y="284.7" width="2.7" height="46.1" rx="1.4"/><rect x="1500.0" y="284.6" width="2.7" height="46.1" rx="1.4"/><rect x="1506.4" y="284.4" width="2.7" height="46.1" rx="1.4"/><rect x="1512.8" y="284.1" width="2.6" height="46.0" rx="1.4"/><rect x="1519.0" y="283.7" width="2.6" height="46.0" rx="1.3"/><rect x="1525.1" y="283.2" width="2.5" height="45.9" rx="1.3"/><rect x="1531.1" y="282.7" width="2.4" height="45.8" rx="1.3"/><rect x="1536.9" y="282.0" width="2.3" height="45.8" rx="1.2"/><rect x="1542.4" y="281.2" width="2.3" height="45.7" rx="1.2"/><rect x="1547.7" y="280.4" width="2.1" height="45.6" rx="1.1"/><rect x="1493.5" y="336.2" width="2.7" height="45.6" rx="1.4"/><rect x="1500.0" y="336.1" width="2.7" height="45.6" rx="1.4"/><rect x="1506.4" y="335.8" width="2.7" height="45.6" rx="1.4"/><rect x="1512.8" y="335.5" width="2.6" height="45.5" rx="1.4"/><rect x="1519.0" y="335.1" width="2.6" height="45.5" rx="1.3"/><rect x="1525.1" y="334.5" width="2.5" height="45.4" rx="1.3"/><rect x="1531.1" y="333.9" width="2.4" height="45.3" rx="1.3"/><rect x="1536.9" y="333.2" width="2.3" height="45.3" rx="1.2"/><rect x="1542.4" y="332.3" width="2.3" height="45.2" rx="1.2"/><rect x="1547.7" y="331.4" width="2.1" height="45.1" rx="1.1"/><rect x="1493.5" y="387.2" width="2.7" height="44.1" rx="1.4"/><rect x="1500.0" y="387.1" width="2.7" height="44.1" rx="1.4"/><rect x="1506.4" y="386.8" width="2.7" height="44.1" rx="1.4"/><rect x="1512.8" y="386.4" width="2.6" height="44.0" rx="1.4"/><rect x="1519.0" y="386.0" width="2.6" height="44.0" rx="1.3"/><rect x="1525.1" y="385.4" width="2.5" height="43.9" rx="1.3"/><rect x="1531.1" y="384.6" width="2.4" height="43.8" rx="1.3"/><rect x="1536.9" y="383.8" width="2.3" height="43.8" rx="1.2"/><rect x="1542.4" y="382.9" width="2.3" height="43.7" rx="1.2"/><rect x="1547.7" y="381.8" width="2.1" height="43.6" rx="1.1"/><rect x="1493.5" y="436.7" width="2.7" height="44.6" rx="1.4"/><rect x="1500.0" y="436.5" width="2.7" height="44.6" rx="1.4"/><rect x="1506.4" y="436.3" width="2.7" height="44.6" rx="1.4"/><rect x="1512.8" y="435.9" width="2.6" height="44.5" rx="1.4"/><rect x="1519.0" y="435.3" width="2.6" height="44.5" rx="1.3"/><rect x="1525.1" y="434.7" width="2.5" height="44.4" rx="1.3"/><rect x="1531.1" y="433.9" width="2.4" height="44.3" rx="1.3"/><rect x="1536.9" y="433.0" width="2.3" height="44.3" rx="1.2"/><rect x="1542.4" y="431.9" width="2.3" height="44.2" rx="1.2"/><rect x="1547.7" y="430.8" width="2.1" height="44.1" rx="1.1"/><rect x="1493.5" y="486.7" width="2.7" height="45.6" rx="1.4"/><rect x="1500.0" y="486.5" width="2.7" height="45.6" rx="1.4"/><rect x="1506.4" y="486.2" width="2.7" height="45.5" rx="1.4"/><rect x="1512.8" y="485.8" width="2.6" height="45.5" rx="1.4"/><rect x="1519.0" y="485.2" width="2.6" height="45.4" rx="1.3"/><rect x="1525.1" y="484.5" width="2.5" height="45.4" rx="1.3"/><rect x="1531.1" y="483.6" width="2.4" height="45.3" rx="1.3"/><rect x="1536.9" y="482.6" width="2.3" height="45.1" rx="1.2"/><rect x="1542.4" y="481.5" width="2.3" height="45.0" rx="1.2"/><rect x="1547.7" y="480.3" width="2.1" height="44.9" rx="1.1"/></g>
<g fill="#333c42"><rect x="1143.2" y="123.4" width="0.7" height="43.8" rx="0.3"/><rect x="1146.4" y="124.1" width="0.8" height="44.0" rx="0.4"/><rect x="1150.0" y="124.8" width="0.9" height="44.1" rx="0.4"/><rect x="1153.9" y="125.4" width="0.9" height="44.2" rx="0.4"/><rect x="1158.1" y="126.0" width="1.0" height="44.4" rx="0.5"/><rect x="1162.7" y="126.5" width="1.1" height="44.5" rx="0.5"/><rect x="1167.5" y="127.1" width="1.2" height="44.6" rx="0.5"/><rect x="1172.6" y="127.6" width="1.2" height="44.7" rx="0.6"/><rect x="1178.0" y="128.0" width="1.3" height="44.8" rx="0.6"/><rect x="1183.6" y="128.4" width="1.3" height="44.9" rx="0.6"/><rect x="1189.4" y="128.8" width="1.4" height="45.0" rx="0.6"/><rect x="1195.4" y="129.1" width="1.4" height="45.0" rx="0.7"/><rect x="1201.5" y="129.3" width="1.4" height="45.1" rx="0.7"/><rect x="1207.7" y="129.5" width="1.5" height="45.1" rx="0.7"/><rect x="1214.1" y="129.7" width="1.5" height="45.2" rx="0.7"/><rect x="1220.5" y="129.8" width="1.5" height="45.2" rx="0.7"/><rect x="1227.0" y="129.9" width="1.5" height="45.2" rx="0.7"/><rect x="1143.2" y="173.0" width="0.7" height="44.8" rx="0.3"/><rect x="1146.4" y="173.9" width="0.8" height="45.0" rx="0.4"/><rect x="1150.0" y="174.7" width="0.9" height="45.1" rx="0.4"/><rect x="1153.9" y="175.4" width="0.9" height="45.2" rx="0.4"/><rect x="1158.1" y="176.2" width="1.0" height="45.4" rx="0.5"/><rect x="1162.7" y="176.8" width="1.1" height="45.5" rx="0.5"/><rect x="1167.5" y="177.5" width="1.2" height="45.6" rx="0.5"/><rect x="1172.6" y="178.1" width="1.2" height="45.7" rx="0.6"/><rect x="1178.0" y="178.6" width="1.3" height="45.8" rx="0.6"/><rect x="1183.6" y="179.1" width="1.3" height="45.9" rx="0.6"/><rect x="1189.4" y="179.5" width="1.4" height="46.0" rx="0.6"/><rect x="1195.4" y="179.9" width="1.4" height="46.0" rx="0.7"/><rect x="1201.5" y="180.2" width="1.4" height="46.1" rx="0.7"/><rect x="1207.7" y="180.5" width="1.5" height="46.1" rx="0.7"/><rect x="1214.1" y="180.7" width="1.5" height="46.2" rx="0.7"/><rect x="1220.5" y="180.8" width="1.5" height="46.2" rx="0.7"/><rect x="1227.0" y="180.9" width="1.5" height="46.2" rx="0.7"/><rect x="1143.2" y="223.7" width="0.7" height="44.4" rx="0.3"/><rect x="1146.4" y="224.6" width="0.8" height="44.5" rx="0.4"/><rect x="1150.0" y="225.6" width="0.9" height="44.7" rx="0.4"/><rect x="1153.9" y="226.5" width="0.9" height="44.9" rx="0.4"/><rect x="1158.1" y="227.3" width="1.0" height="45.1" rx="0.5"/><rect x="1162.7" y="228.1" width="1.1" height="45.2" rx="0.5"/><rect x="1167.5" y="228.9" width="1.2" height="45.4" rx="0.5"/><rect x="1172.6" y="229.6" width="1.2" height="45.5" rx="0.6"/><rect x="1178.0" y="230.2" width="1.3" height="45.7" rx="0.6"/><rect x="1183.6" y="230.8" width="1.3" height="45.8" rx="0.6"/><rect x="1189.4" y="231.3" width="1.4" height="45.9" rx="0.6"/><rect x="1195.4" y="231.7" width="1.4" height="46.0" rx="0.7"/><rect x="1201.5" y="232.1" width="1.4" height="46.0" rx="0.7"/><rect x="1207.7" y="232.4" width="1.5" height="46.1" rx="0.7"/><rect x="1214.1" y="232.6" width="1.5" height="46.1" rx="0.7"/><rect x="1220.5" y="232.8" width="1.5" height="46.2" rx="0.7"/><rect x="1227.0" y="232.9" width="1.5" height="46.2" rx="0.7"/><rect x="1143.2" y="273.8" width="0.7" height="44.3" rx="0.3"/><rect x="1146.4" y="275.0" width="0.8" height="44.5" rx="0.4"/><rect x="1150.0" y="276.1" width="0.9" height="44.6" rx="0.4"/><rect x="1153.9" y="277.2" width="0.9" height="44.7" rx="0.4"/><rect x="1158.1" y="278.2" width="1.0" height="44.9" rx="0.5"/><rect x="1162.7" y="279.2" width="1.1" height="45.0" rx="0.5"/><rect x="1167.5" y="280.1" width="1.2" height="45.1" rx="0.5"/><rect x="1172.6" y="280.9" width="1.2" height="45.2" rx="0.6"/><rect x="1178.0" y="281.6" width="1.3" height="45.3" rx="0.6"/><rect x="1183.6" y="282.3" width="1.3" height="45.4" rx="0.6"/><rect x="1189.4" y="282.9" width="1.4" height="45.5" rx="0.6"/><rect x="1195.4" y="283.5" width="1.4" height="45.5" rx="0.7"/><rect x="1201.5" y="283.9" width="1.4" height="45.6" rx="0.7"/><rect x="1207.7" y="284.3" width="1.5" height="45.6" rx="0.7"/><rect x="1214.1" y="284.6" width="1.5" height="45.7" rx="0.7"/><rect x="1220.5" y="284.8" width="1.5" height="45.7" rx="0.7"/><rect x="1227.0" y="284.9" width="1.5" height="45.7" rx="0.7"/><rect x="1143.2" y="323.9" width="0.7" height="43.8" rx="0.3"/><rect x="1146.4" y="325.2" width="0.8" height="44.0" rx="0.4"/><rect x="1150.0" y="326.5" width="0.9" height="44.1" rx="0.4"/><rect x="1153.9" y="327.7" width="0.9" height="44.2" rx="0.4"/><rect x="1158.1" y="328.9" width="1.0" height="44.4" rx="0.5"/><rect x="1162.7" y="329.9" width="1.1" height="44.5" rx="0.5"/><rect x="1167.5" y="330.9" width="1.2" height="44.6" rx="0.5"/><rect x="1172.6" y="331.9" width="1.2" height="44.7" rx="0.6"/><rect x="1178.0" y="332.7" width="1.3" height="44.8" rx="0.6"/><rect x="1183.6" y="333.5" width="1.3" height="44.9" rx="0.6"/><rect x="1189.4" y="334.2" width="1.4" height="45.0" rx="0.6"/><rect x="1195.4" y="334.8" width="1.4" height="45.0" rx="0.7"/><rect x="1201.5" y="335.3" width="1.4" height="45.1" rx="0.7"/><rect x="1207.7" y="335.7" width="1.5" height="45.1" rx="0.7"/><rect x="1214.1" y="336.0" width="1.5" height="45.2" rx="0.7"/><rect x="1220.5" y="336.2" width="1.5" height="45.2" rx="0.7"/><rect x="1227.0" y="336.4" width="1.5" height="45.2" rx="0.7"/><rect x="1143.2" y="373.5" width="0.7" height="42.3" rx="0.3"/><rect x="1146.4" y="375.0" width="0.8" height="42.5" rx="0.4"/><rect x="1150.0" y="376.4" width="0.9" height="42.6" rx="0.4"/><rect x="1153.9" y="377.7" width="0.9" height="42.7" rx="0.4"/><rect x="1158.1" y="379.0" width="1.0" height="42.9" rx="0.5"/><rect x="1162.7" y="380.2" width="1.1" height="43.0" rx="0.5"/><rect x="1167.5" y="381.3" width="1.2" height="43.1" rx="0.5"/><rect x="1172.6" y="382.4" width="1.2" height="43.2" rx="0.6"/><rect x="1178.0" y="383.3" width="1.3" height="43.3" rx="0.6"/><rect x="1183.6" y="384.2" width="1.3" height="43.4" rx="0.6"/><rect x="1189.4" y="384.9" width="1.4" height="43.5" rx="0.6"/><rect x="1195.4" y="385.6" width="1.4" height="43.5" rx="0.7"/><rect x="1201.5" y="386.2" width="1.4" height="43.6" rx="0.7"/><rect x="1207.7" y="386.6" width="1.5" height="43.6" rx="0.7"/><rect x="1214.1" y="387.0" width="1.5" height="43.7" rx="0.7"/><rect x="1220.5" y="387.2" width="1.5" height="43.7" rx="0.7"/><rect x="1227.0" y="387.4" width="1.5" height="43.7" rx="0.7"/><rect x="1143.2" y="421.7" width="0.7" height="42.8" rx="0.3"/><rect x="1146.4" y="423.3" width="0.8" height="43.0" rx="0.4"/><rect x="1150.0" y="424.8" width="0.9" height="43.1" rx="0.4"/><rect x="1153.9" y="426.3" width="0.9" height="43.2" rx="0.4"/><rect x="1158.1" y="427.7" width="1.0" height="43.4" rx="0.5"/><rect x="1162.7" y="429.0" width="1.1" height="43.5" rx="0.5"/><rect x="1167.5" y="430.2" width="1.2" height="43.6" rx="0.5"/><rect x="1172.6" y="431.4" width="1.2" height="43.7" rx="0.6"/><rect x="1178.0" y="432.4" width="1.3" height="43.8" rx="0.6"/><rect x="1183.6" y="433.4" width="1.3" height="43.9" rx="0.6"/><rect x="1189.4" y="434.2" width="1.4" height="44.0" rx="0.6"/><rect x="1195.4" y="434.9" width="1.4" height="44.0" rx="0.7"/><rect x="1201.5" y="435.5" width="1.4" height="44.1" rx="0.7"/><rect x="1207.7" y="436.1" width="1.5" height="44.1" rx="0.7"/><rect x="1214.1" y="436.4" width="1.5" height="44.2" rx="0.7"/><rect x="1220.5" y="436.7" width="1.5" height="44.2" rx="0.7"/><rect x="1227.0" y="436.9" width="1.5" height="44.2" rx="0.7"/><rect x="1143.2" y="470.3" width="0.7" height="43.4" rx="0.3"/><rect x="1146.4" y="472.0" width="0.8" height="43.5" rx="0.4"/><rect x="1150.0" y="473.7" width="0.9" height="43.7" rx="0.4"/><rect x="1153.9" y="475.3" width="0.9" height="43.9" rx="0.4"/><rect x="1158.1" y="476.8" width="1.0" height="44.1" rx="0.5"/><rect x="1162.7" y="478.3" width="1.1" height="44.2" rx="0.5"/><rect x="1167.5" y="479.6" width="1.2" height="44.4" rx="0.5"/><rect x="1172.6" y="480.9" width="1.2" height="44.5" rx="0.6"/><rect x="1178.0" y="482.0" width="1.3" height="44.7" rx="0.6"/><rect x="1183.6" y="483.0" width="1.3" height="44.8" rx="0.6"/><rect x="1189.4" y="484.0" width="1.4" height="44.9" rx="0.6"/><rect x="1195.4" y="484.8" width="1.4" height="45.0" rx="0.7"/><rect x="1201.5" y="485.4" width="1.4" height="45.0" rx="0.7"/><rect x="1207.7" y="486.0" width="1.5" height="45.1" rx="0.7"/><rect x="1214.1" y="486.4" width="1.5" height="45.1" rx="0.7"/><rect x="1220.5" y="486.7" width="1.5" height="45.2" rx="0.7"/><rect x="1227.0" y="486.9" width="1.5" height="45.2" rx="0.7"/></g>
<g fill="#080a0c"><rect x="1552.7" y="126.9" width="1.1" height="44.6" rx="0.5"/><rect x="1557.4" y="126.3" width="1.1" height="44.4" rx="0.5"/><rect x="1561.8" y="125.7" width="1.0" height="44.3" rx="0.5"/><rect x="1565.9" y="125.0" width="0.9" height="44.2" rx="0.4"/><rect x="1569.6" y="124.4" width="0.8" height="44.0" rx="0.4"/><rect x="1573.0" y="123.7" width="0.7" height="43.9" rx="0.3"/><rect x="1575.9" y="122.9" width="0.6" height="43.7" rx="0.3"/><rect x="1552.7" y="177.2" width="1.1" height="45.6" rx="0.5"/><rect x="1557.4" y="176.5" width="1.1" height="45.4" rx="0.5"/><rect x="1561.8" y="175.8" width="1.0" height="45.3" rx="0.5"/><rect x="1565.9" y="175.0" width="0.9" height="45.2" rx="0.4"/><rect x="1569.6" y="174.2" width="0.8" height="45.0" rx="0.4"/><rect x="1573.0" y="173.3" width="0.7" height="44.9" rx="0.3"/><rect x="1575.9" y="172.4" width="0.6" height="44.7" rx="0.3"/><rect x="1552.7" y="228.6" width="1.1" height="45.3" rx="0.5"/><rect x="1557.4" y="227.8" width="1.1" height="45.2" rx="0.5"/><rect x="1561.8" y="226.9" width="1.0" height="45.0" rx="0.5"/><rect x="1565.9" y="226.0" width="0.9" height="44.8" rx="0.4"/><rect x="1569.6" y="225.0" width="0.8" height="44.6" rx="0.4"/><rect x="1573.0" y="224.0" width="0.7" height="44.4" rx="0.3"/><rect x="1575.9" y="222.9" width="0.6" height="44.2" rx="0.3"/><rect x="1552.7" y="279.7" width="1.1" height="45.1" rx="0.5"/><rect x="1557.4" y="278.7" width="1.1" height="44.9" rx="0.5"/><rect x="1561.8" y="277.7" width="1.0" height="44.8" rx="0.5"/><rect x="1565.9" y="276.6" width="0.9" height="44.7" rx="0.4"/><rect x="1569.6" y="275.4" width="0.8" height="44.5" rx="0.4"/><rect x="1573.0" y="274.2" width="0.7" height="44.4" rx="0.3"/><rect x="1575.9" y="272.9" width="0.6" height="44.2" rx="0.3"/><rect x="1552.7" y="330.6" width="1.1" height="44.6" rx="0.5"/><rect x="1557.4" y="329.5" width="1.1" height="44.4" rx="0.5"/><rect x="1561.8" y="328.3" width="1.0" height="44.3" rx="0.5"/><rect x="1565.9" y="327.0" width="0.9" height="44.2" rx="0.4"/><rect x="1569.6" y="325.7" width="0.8" height="44.0" rx="0.4"/><rect x="1573.0" y="324.4" width="0.7" height="43.9" rx="0.3"/><rect x="1575.9" y="322.9" width="0.6" height="43.7" rx="0.3"/><rect x="1552.7" y="380.9" width="1.1" height="43.1" rx="0.5"/><rect x="1557.4" y="379.7" width="1.1" height="42.9" rx="0.5"/><rect x="1561.8" y="378.4" width="1.0" height="42.8" rx="0.5"/><rect x="1565.9" y="377.0" width="0.9" height="42.7" rx="0.4"/><rect x="1569.6" y="375.5" width="0.8" height="42.5" rx="0.4"/><rect x="1573.0" y="374.0" width="0.7" height="42.4" rx="0.3"/><rect x="1575.9" y="372.4" width="0.6" height="42.2" rx="0.3"/><rect x="1552.7" y="429.8" width="1.1" height="43.6" rx="0.5"/><rect x="1557.4" y="428.4" width="1.1" height="43.4" rx="0.5"/><rect x="1561.8" y="427.0" width="1.0" height="43.3" rx="0.5"/><rect x="1565.9" y="425.5" width="0.9" height="43.2" rx="0.4"/><rect x="1569.6" y="423.9" width="0.8" height="43.0" rx="0.4"/><rect x="1573.0" y="422.2" width="0.7" height="42.9" rx="0.3"/><rect x="1575.9" y="420.4" width="0.6" height="42.7" rx="0.3"/><rect x="1552.7" y="479.1" width="1.1" height="44.3" rx="0.5"/><rect x="1557.4" y="477.7" width="1.1" height="44.2" rx="0.5"/><rect x="1561.8" y="476.1" width="1.0" height="44.0" rx="0.5"/><rect x="1565.9" y="474.4" width="0.9" height="43.8" rx="0.4"/><rect x="1569.6" y="472.7" width="0.8" height="43.6" rx="0.4"/><rect x="1573.0" y="470.8" width="0.7" height="43.4" rx="0.3"/><rect x="1575.9" y="468.9" width="0.6" height="43.2" rx="0.3"/></g>
<g fill="#0c1013"><rect x="1493.5" y="129.9" width="1.5" height="45.2" rx="0.7"/><rect x="1500.0" y="129.8" width="1.5" height="45.2" rx="0.7"/><rect x="1506.4" y="129.7" width="1.5" height="45.2" rx="0.7"/><rect x="1512.8" y="129.5" width="1.5" height="45.1" rx="0.7"/><rect x="1519.0" y="129.3" width="1.4" height="45.1" rx="0.7"/><rect x="1525.1" y="129.0" width="1.4" height="45.0" rx="0.7"/><rect x="1531.1" y="128.7" width="1.4" height="44.9" rx="0.6"/><rect x="1536.9" y="128.3" width="1.3" height="44.9" rx="0.6"/><rect x="1542.4" y="127.9" width="1.3" height="44.8" rx="0.6"/><rect x="1547.7" y="127.4" width="1.2" height="44.7" rx="0.6"/><rect x="1493.5" y="180.9" width="1.5" height="46.2" rx="0.7"/><rect x="1500.0" y="180.8" width="1.5" height="46.2" rx="0.7"/><rect x="1506.4" y="180.7" width="1.5" height="46.2" rx="0.7"/><rect x="1512.8" y="180.5" width="1.5" height="46.1" rx="0.7"/><rect x="1519.0" y="180.2" width="1.4" height="46.1" rx="0.7"/><rect x="1525.1" y="179.9" width="1.4" height="46.0" rx="0.7"/><rect x="1531.1" y="179.4" width="1.4" height="45.9" rx="0.6"/><rect x="1536.9" y="179.0" width="1.3" height="45.9" rx="0.6"/><rect x="1542.4" y="178.5" width="1.3" height="45.8" rx="0.6"/><rect x="1547.7" y="177.9" width="1.2" height="45.7" rx="0.6"/><rect x="1493.5" y="232.9" width="1.5" height="46.2" rx="0.7"/><rect x="1500.0" y="232.8" width="1.5" height="46.2" rx="0.7"/><rect x="1506.4" y="232.6" width="1.5" height="46.1" rx="0.7"/><rect x="1512.8" y="232.4" width="1.5" height="46.1" rx="0.7"/><rect x="1519.0" y="232.1" width="1.4" height="46.0" rx="0.7"/><rect x="1525.1" y="231.7" width="1.4" height="46.0" rx="0.7"/><rect x="1531.1" y="231.2" width="1.4" height="45.9" rx="0.6"/><rect x="1536.9" y="230.6" width="1.3" height="45.7" rx="0.6"/><rect x="1542.4" y="230.0" width="1.3" height="45.6" rx="0.6"/><rect x="1547.7" y="229.3" width="1.2" height="45.5" rx="0.6"/><rect x="1493.5" y="284.9" width="1.5" height="45.7" rx="0.7"/><rect x="1500.0" y="284.8" width="1.5" height="45.7" rx="0.7"/><rect x="1506.4" y="284.6" width="1.5" height="45.7" rx="0.7"/><rect x="1512.8" y="284.3" width="1.5" height="45.6" rx="0.7"/><rect x="1519.0" y="283.9" width="1.4" height="45.6" rx="0.7"/><rect x="1525.1" y="283.4" width="1.4" height="45.5" rx="0.7"/><rect x="1531.1" y="282.9" width="1.4" height="45.4" rx="0.6"/><rect x="1536.9" y="282.2" width="1.3" height="45.4" rx="0.6"/><rect x="1542.4" y="281.4" width="1.3" height="45.3" rx="0.6"/><rect x="1547.7" y="280.6" width="1.2" height="45.2" rx="0.6"/><rect x="1493.5" y="336.4" width="1.5" height="45.2" rx="0.7"/><rect x="1500.0" y="336.3" width="1.5" height="45.2" rx="0.7"/><rect x="1506.4" y="336.0" width="1.5" height="45.2" rx="0.7"/><rect x="1512.8" y="335.7" width="1.5" height="45.1" rx="0.7"/><rect x="1519.0" y="335.3" width="1.4" height="45.1" rx="0.7"/><rect x="1525.1" y="334.7" width="1.4" height="45.0" rx="0.7"/><rect x="1531.1" y="334.1" width="1.4" height="44.9" rx="0.6"/><rect x="1536.9" y="333.4" width="1.3" height="44.9" rx="0.6"/><rect x="1542.4" y="332.5" width="1.3" height="44.8" rx="0.6"/><rect x="1547.7" y="331.6" width="1.2" height="44.7" rx="0.6"/><rect x="1493.5" y="387.4" width="1.5" height="43.7" rx="0.7"/><rect x="1500.0" y="387.3" width="1.5" height="43.7" rx="0.7"/><rect x="1506.4" y="387.0" width="1.5" height="43.7" rx="0.7"/><rect x="1512.8" y="386.6" width="1.5" height="43.6" rx="0.7"/><rect x="1519.0" y="386.2" width="1.4" height="43.6" rx="0.7"/><rect x="1525.1" y="385.6" width="1.4" height="43.5" rx="0.7"/><rect x="1531.1" y="384.8" width="1.4" height="43.4" rx="0.6"/><rect x="1536.9" y="384.0" width="1.3" height="43.4" rx="0.6"/><rect x="1542.4" y="383.1" width="1.3" height="43.3" rx="0.6"/><rect x="1547.7" y="382.0" width="1.2" height="43.2" rx="0.6"/><rect x="1493.5" y="436.9" width="1.5" height="44.2" rx="0.7"/><rect x="1500.0" y="436.7" width="1.5" height="44.2" rx="0.7"/><rect x="1506.4" y="436.5" width="1.5" height="44.2" rx="0.7"/><rect x="1512.8" y="436.1" width="1.5" height="44.1" rx="0.7"/><rect x="1519.0" y="435.5" width="1.4" height="44.1" rx="0.7"/><rect x="1525.1" y="434.9" width="1.4" height="44.0" rx="0.7"/><rect x="1531.1" y="434.1" width="1.4" height="43.9" rx="0.6"/><rect x="1536.9" y="433.2" width="1.3" height="43.9" rx="0.6"/><rect x="1542.4" y="432.1" width="1.3" height="43.8" rx="0.6"/><rect x="1547.7" y="431.0" width="1.2" height="43.7" rx="0.6"/><rect x="1493.5" y="486.9" width="1.5" height="45.2" rx="0.7"/><rect x="1500.0" y="486.7" width="1.5" height="45.2" rx="0.7"/><rect x="1506.4" y="486.4" width="1.5" height="45.1" rx="0.7"/><rect x="1512.8" y="486.0" width="1.5" height="45.1" rx="0.7"/><rect x="1519.0" y="485.4" width="1.4" height="45.0" rx="0.7"/><rect x="1525.1" y="484.7" width="1.4" height="45.0" rx="0.7"/><rect x="1531.1" y="483.8" width="1.4" height="44.9" rx="0.6"/><rect x="1536.9" y="482.8" width="1.3" height="44.7" rx="0.6"/><rect x="1542.4" y="481.7" width="1.3" height="44.6" rx="0.6"/><rect x="1547.7" y="480.5" width="1.2" height="44.5" rx="0.6"/></g>
<path d="M1141.0,169.5 L1144.8,170.6 L1148.6,171.5 L1152.4,172.2 L1156.2,172.9 L1160.0,173.5 L1163.8,174.1 L1167.5,174.6 L1171.3,175.0 L1175.1,175.4 L1178.9,175.8 L1182.7,176.1 L1186.5,176.4 L1190.3,176.7 L1194.1,176.9 L1197.9,177.1 L1201.7,177.3 L1205.5,177.5 L1209.2,177.6 L1213.0,177.7 L1216.8,177.8 L1220.6,177.9 L1224.4,178.0 L1228.2,178.0 L1232.0,178.0 L1490.0,178.0 L1493.6,178.0 L1497.2,178.0 L1500.8,177.9 L1504.3,177.8 L1507.9,177.7 L1511.5,177.6 L1515.1,177.5 L1518.7,177.3 L1522.2,177.1 L1525.8,176.9 L1529.4,176.7 L1533.0,176.4 L1536.6,176.1 L1540.2,175.8 L1543.8,175.4 L1547.3,175.0 L1550.9,174.6 L1554.5,174.1 L1558.1,173.5 L1561.7,172.9 L1565.2,172.2 L1568.8,171.5 L1572.4,170.6 L1576.0,169.5" fill="none" stroke="#b4bbbf" stroke-width="3.8"/>
<path d="M1141.0,220.0 L1144.8,221.3 L1148.6,222.3 L1152.4,223.2 L1156.2,224.0 L1160.0,224.7 L1163.8,225.4 L1167.5,226.0 L1171.3,226.5 L1175.1,227.0 L1178.9,227.4 L1182.7,227.8 L1186.5,228.1 L1190.3,228.4 L1194.1,228.7 L1197.9,229.0 L1201.7,229.2 L1205.5,229.4 L1209.2,229.5 L1213.0,229.7 L1216.8,229.8 L1220.6,229.9 L1224.4,230.0 L1228.2,230.0 L1232.0,230.0 L1490.0,230.0 L1493.6,230.0 L1497.2,230.0 L1500.8,229.9 L1504.3,229.8 L1507.9,229.7 L1511.5,229.5 L1515.1,229.4 L1518.7,229.2 L1522.2,229.0 L1525.8,228.7 L1529.4,228.4 L1533.0,228.1 L1536.6,227.8 L1540.2,227.4 L1543.8,227.0 L1547.3,226.5 L1550.9,226.0 L1554.5,225.4 L1558.1,224.7 L1561.7,224.0 L1565.2,223.2 L1568.8,222.3 L1572.4,221.3 L1576.0,220.0" fill="none" stroke="#b4bbbf" stroke-width="3.8"/>
<path d="M1141.0,270.0 L1144.8,271.5 L1148.6,272.8 L1152.4,273.9 L1156.2,274.8 L1160.0,275.7 L1163.8,276.5 L1167.5,277.2 L1171.3,277.8 L1175.1,278.3 L1178.9,278.9 L1182.7,279.3 L1186.5,279.7 L1190.3,280.1 L1194.1,280.5 L1197.9,280.8 L1201.7,281.0 L1205.5,281.3 L1209.2,281.5 L1213.0,281.6 L1216.8,281.8 L1220.6,281.9 L1224.4,281.9 L1228.2,282.0 L1232.0,282.0 L1490.0,282.0 L1493.6,282.0 L1497.2,281.9 L1500.8,281.9 L1504.3,281.8 L1507.9,281.6 L1511.5,281.5 L1515.1,281.3 L1518.7,281.0 L1522.2,280.8 L1525.8,280.5 L1529.4,280.1 L1533.0,279.7 L1536.6,279.3 L1540.2,278.9 L1543.8,278.3 L1547.3,277.8 L1550.9,277.2 L1554.5,276.5 L1558.1,275.7 L1561.7,274.8 L1565.2,273.9 L1568.8,272.8 L1572.4,271.5 L1576.0,270.0" fill="none" stroke="#b4bbbf" stroke-width="3.8"/>
<path d="M1141.0,320.0 L1144.8,321.7 L1148.6,323.1 L1152.4,324.4 L1156.2,325.4 L1160.0,326.4 L1163.8,327.3 L1167.5,328.0 L1171.3,328.7 L1175.1,329.4 L1178.9,330.0 L1182.7,330.5 L1186.5,331.0 L1190.3,331.4 L1194.1,331.8 L1197.9,332.1 L1201.7,332.4 L1205.5,332.7 L1209.2,332.9 L1213.0,333.1 L1216.8,333.2 L1220.6,333.3 L1224.4,333.4 L1228.2,333.5 L1232.0,333.5 L1490.0,333.5 L1493.6,333.5 L1497.2,333.4 L1500.8,333.3 L1504.3,333.2 L1507.9,333.1 L1511.5,332.9 L1515.1,332.7 L1518.7,332.4 L1522.2,332.1 L1525.8,331.8 L1529.4,331.4 L1533.0,331.0 L1536.6,330.5 L1540.2,330.0 L1543.8,329.4 L1547.3,328.7 L1550.9,328.0 L1554.5,327.3 L1558.1,326.4 L1561.7,325.4 L1565.2,324.4 L1568.8,323.1 L1572.4,321.7 L1576.0,320.0" fill="none" stroke="#b4bbbf" stroke-width="3.8"/>
<path d="M1141.0,369.5 L1144.8,371.4 L1148.6,373.0 L1152.4,374.3 L1156.2,375.5 L1160.0,376.6 L1163.8,377.6 L1167.5,378.4 L1171.3,379.2 L1175.1,379.9 L1178.9,380.6 L1182.7,381.2 L1186.5,381.7 L1190.3,382.2 L1194.1,382.6 L1197.9,383.0 L1201.7,383.3 L1205.5,383.6 L1209.2,383.8 L1213.0,384.0 L1216.8,384.2 L1220.6,384.3 L1224.4,384.4 L1228.2,384.5 L1232.0,384.5 L1490.0,384.5 L1493.6,384.5 L1497.2,384.4 L1500.8,384.3 L1504.3,384.2 L1507.9,384.0 L1511.5,383.8 L1515.1,383.6 L1518.7,383.3 L1522.2,383.0 L1525.8,382.6 L1529.4,382.2 L1533.0,381.7 L1536.6,381.2 L1540.2,380.6 L1543.8,379.9 L1547.3,379.2 L1550.9,378.4 L1554.5,377.6 L1558.1,376.6 L1561.7,375.5 L1565.2,374.3 L1568.8,373.0 L1572.4,371.4 L1576.0,369.5" fill="none" stroke="#b4bbbf" stroke-width="3.8"/>
<path d="M1141.0,417.5 L1144.8,419.6 L1148.6,421.3 L1152.4,422.8 L1156.2,424.2 L1160.0,425.3 L1163.8,426.4 L1167.5,427.3 L1171.3,428.2 L1175.1,429.0 L1178.9,429.7 L1182.7,430.3 L1186.5,430.9 L1190.3,431.4 L1194.1,431.9 L1197.9,432.3 L1201.7,432.7 L1205.5,433.0 L1209.2,433.3 L1213.0,433.5 L1216.8,433.7 L1220.6,433.8 L1224.4,433.9 L1228.2,434.0 L1232.0,434.0 L1490.0,434.0 L1493.6,434.0 L1497.2,433.9 L1500.8,433.8 L1504.3,433.7 L1507.9,433.5 L1511.5,433.3 L1515.1,433.0 L1518.7,432.7 L1522.2,432.3 L1525.8,431.9 L1529.4,431.4 L1533.0,430.9 L1536.6,430.3 L1540.2,429.7 L1543.8,429.0 L1547.3,428.2 L1550.9,427.3 L1554.5,426.4 L1558.1,425.3 L1561.7,424.2 L1565.2,422.8 L1568.8,421.3 L1572.4,419.6 L1576.0,417.5" fill="none" stroke="#b4bbbf" stroke-width="3.8"/>
<path d="M1141.0,466.0 L1144.8,468.3 L1148.6,470.2 L1152.4,471.8 L1156.2,473.3 L1160.0,474.5 L1163.8,475.7 L1167.5,476.7 L1171.3,477.7 L1175.1,478.5 L1178.9,479.3 L1182.7,480.0 L1186.5,480.6 L1190.3,481.2 L1194.1,481.7 L1197.9,482.1 L1201.7,482.5 L1205.5,482.9 L1209.2,483.2 L1213.0,483.4 L1216.8,483.6 L1220.6,483.8 L1224.4,483.9 L1228.2,484.0 L1232.0,484.0 L1490.0,484.0 L1493.6,484.0 L1497.2,483.9 L1500.8,483.8 L1504.3,483.6 L1507.9,483.4 L1511.5,483.2 L1515.1,482.9 L1518.7,482.5 L1522.2,482.1 L1525.8,481.7 L1529.4,481.2 L1533.0,480.6 L1536.6,480.0 L1540.2,479.3 L1543.8,478.5 L1547.3,477.7 L1550.9,476.7 L1554.5,475.7 L1558.1,474.5 L1561.7,473.3 L1565.2,471.8 L1568.8,470.2 L1572.4,468.3 L1576.0,466.0" fill="none" stroke="#b4bbbf" stroke-width="3.8"/>
<path d="M1141.0,120.0 L1144.8,120.9 L1148.6,121.6 L1152.4,122.3 L1156.2,122.8 L1160.0,123.3 L1163.8,123.8 L1167.5,124.2 L1171.3,124.5 L1175.1,124.9 L1178.9,125.2 L1182.7,125.4 L1186.5,125.7 L1190.3,125.9 L1194.1,126.1 L1197.9,126.3 L1201.7,126.4 L1205.5,126.6 L1209.2,126.7 L1213.0,126.8 L1216.8,126.9 L1220.6,126.9 L1224.4,127.0 L1228.2,127.0 L1232.0,127.0 L1490.0,127.0 L1493.6,127.0 L1497.2,127.0 L1500.8,126.9 L1504.3,126.9 L1507.9,126.8 L1511.5,126.7 L1515.1,126.6 L1518.7,126.4 L1522.2,126.3 L1525.8,126.1 L1529.4,125.9 L1533.0,125.7 L1536.6,125.4 L1540.2,125.2 L1543.8,124.9 L1547.3,124.5 L1550.9,124.2 L1554.5,123.8 L1558.1,123.3 L1561.7,122.8 L1565.2,122.3 L1568.8,121.6 L1572.4,120.9 L1576.0,120.0 L1576.0,515.0 L1572.4,517.5 L1568.8,519.6 L1565.2,521.5 L1561.7,523.1 L1558.1,524.5 L1554.5,525.8 L1550.9,526.9 L1547.3,528.0 L1543.8,528.9 L1540.2,529.8 L1536.6,530.5 L1533.0,531.2 L1529.4,531.9 L1525.8,532.4 L1522.2,532.9 L1518.7,533.4 L1515.1,533.8 L1511.5,534.1 L1507.9,534.4 L1504.3,534.6 L1500.8,534.8 L1497.2,534.9 L1493.6,535.0 L1490.0,535.0 L1232.0,535.0 L1228.2,535.0 L1224.4,534.9 L1220.6,534.8 L1216.8,534.6 L1213.0,534.4 L1209.2,534.1 L1205.5,533.8 L1201.7,533.4 L1197.9,532.9 L1194.1,532.4 L1190.3,531.9 L1186.5,531.2 L1182.7,530.5 L1178.9,529.8 L1175.1,528.9 L1171.3,528.0 L1167.5,526.9 L1163.8,525.8 L1160.0,524.5 L1156.2,523.1 L1152.4,521.5 L1148.6,519.6 L1144.8,517.5 L1141.0,515.0 Z" fill="url(#shadeH)"/>
<path d="M1140,109 Q1358,116 1576,107 L1576.0,122.0 L1572.4,122.9 L1568.8,123.6 L1565.2,124.3 L1561.7,124.8 L1558.1,125.3 L1554.5,125.8 L1550.9,126.2 L1547.3,126.5 L1543.8,126.9 L1540.2,127.2 L1536.6,127.4 L1533.0,127.7 L1529.4,127.9 L1525.8,128.1 L1522.2,128.3 L1518.7,128.4 L1515.1,128.6 L1511.5,128.7 L1507.9,128.8 L1504.3,128.9 L1500.8,128.9 L1497.2,129.0 L1493.6,129.0 L1490.0,129.0 L1232.0,129.0 L1228.2,129.0 L1224.4,129.0 L1220.6,128.9 L1216.8,128.9 L1213.0,128.8 L1209.2,128.7 L1205.5,128.6 L1201.7,128.4 L1197.9,128.3 L1194.1,128.1 L1190.3,127.9 L1186.5,127.7 L1182.7,127.4 L1178.9,127.2 L1175.1,126.9 L1171.3,126.5 L1167.5,126.2 L1163.8,125.8 L1160.0,125.3 L1156.2,124.8 L1152.4,124.3 L1148.6,123.6 L1144.8,122.9 L1141.0,122.0 Z" fill="#adb2b5"/>
<path d="M1140,110 L1140,88 Q1140,76 1148,68 L1180,39 Q1188,31.5 1200,31.5 L1521,30.5 Q1530,30.5 1537,38 L1562,64 Q1576,78 1576,93 L1576,108 Q1358,116 1140,110 Z" fill="url(#lidg)"/>
<path d="M1248,84 Q1400,83 1550,82" stroke="#dfe2e4" stroke-width="1.3" fill="none" opacity="0.85"/>
<path d="M1167,86.5 h8 M1184,88 h9 M1199,89.5 h5" stroke="#e8ebed" stroke-width="1.6" fill="none"/>
<path d="M1165,75 Q1358,72 1555,72" stroke="#9ca1a5" stroke-width="2" fill="none" opacity="0.5"/>
<path d="M1140,109.5 Q1358,116 1576,107" stroke="#2f3438" stroke-width="1.1" fill="none"/>
<path d="M1140,111 Q1358,117.5 1576,108.5" stroke="#cfd3d6" stroke-width="1" fill="none"/>
<path d="M1197,32 L1521,31 Q1527,31 1525,38 L1520,58 Q1518,66 1508,66 L1212,68 Q1202,68 1199,60 L1191,41 Q1189,33 1197,32 Z" fill="#9da3a7"/>
<clipPath id="gclip"><path d="M1197,32 L1521,31 Q1527,31 1525,38 L1520,58 Q1518,66 1508,66 L1212,68 Q1202,68 1199,60 L1191,41 Q1189,33 1197,32 Z"/></clipPath><g clip-path="url(#gclip)">
<line x1="1194" y1="34.5" x2="1523" y2="34.2" stroke="#d2d5d8" stroke-width="1.2"/>
<line x1="1194" y1="35.8" x2="1523" y2="35.5" stroke="#7a8085" stroke-width="0.7"/>
<line x1="1194" y1="37.2" x2="1523" y2="36.9" stroke="#d2d5d8" stroke-width="1.2"/>
<line x1="1194" y1="38.5" x2="1523" y2="38.2" stroke="#7a8085" stroke-width="0.7"/>
<line x1="1194" y1="39.9" x2="1523" y2="39.6" stroke="#d2d5d8" stroke-width="1.2"/>
<line x1="1194" y1="41.2" x2="1523" y2="40.9" stroke="#7a8085" stroke-width="0.7"/>
<line x1="1194" y1="42.6" x2="1523" y2="42.3" stroke="#d2d5d8" stroke-width="1.2"/>
<line x1="1194" y1="43.9" x2="1523" y2="43.6" stroke="#7a8085" stroke-width="0.7"/>
<line x1="1194" y1="45.3" x2="1523" y2="45.0" stroke="#d2d5d8" stroke-width="1.2"/>
<line x1="1194" y1="46.6" x2="1523" y2="46.3" stroke="#7a8085" stroke-width="0.7"/>
<line x1="1194" y1="48.0" x2="1523" y2="47.7" stroke="#d2d5d8" stroke-width="1.2"/>
<line x1="1194" y1="49.3" x2="1523" y2="49.0" stroke="#7a8085" stroke-width="0.7"/>
<line x1="1194" y1="50.7" x2="1523" y2="50.4" stroke="#d2d5d8" stroke-width="1.2"/>
<line x1="1194" y1="52.0" x2="1523" y2="51.7" stroke="#7a8085" stroke-width="0.7"/>
<line x1="1194" y1="53.4" x2="1523" y2="53.1" stroke="#d2d5d8" stroke-width="1.2"/>
<line x1="1194" y1="54.7" x2="1523" y2="54.4" stroke="#7a8085" stroke-width="0.7"/>
<line x1="1194" y1="56.1" x2="1523" y2="55.8" stroke="#d2d5d8" stroke-width="1.2"/>
<line x1="1194" y1="57.4" x2="1523" y2="57.1" stroke="#7a8085" stroke-width="0.7"/>
<line x1="1194" y1="58.8" x2="1523" y2="58.5" stroke="#d2d5d8" stroke-width="1.2"/>
<line x1="1194" y1="60.1" x2="1523" y2="59.8" stroke="#7a8085" stroke-width="0.7"/>
<line x1="1194" y1="61.5" x2="1523" y2="61.2" stroke="#d2d5d8" stroke-width="1.2"/>
<line x1="1194" y1="62.8" x2="1523" y2="62.5" stroke="#7a8085" stroke-width="0.7"/>
<line x1="1194" y1="64.2" x2="1523" y2="63.9" stroke="#d2d5d8" stroke-width="1.2"/>
<line x1="1194" y1="65.5" x2="1523" y2="65.2" stroke="#7a8085" stroke-width="0.7"/>
</g>
<path d="M1206,32 Q1197,32 1192,37 Q1188,42 1191,48 L1199,60 Q1202,68 1212,68 L1508,66 Q1518,66 1520,58 L1525,38 Q1527,31 1519,31" fill="none" stroke="#3a4045" stroke-width="4.2"/>
<path d="M1206,32 Q1197,32 1192,37 Q1188,42 1191,48 L1199,60 Q1202,68 1212,68 L1508,66 Q1518,66 1520,58 L1525,38 Q1527,31 1519,31" fill="none" stroke="#d5d8db" stroke-width="1.5"/>
<path d="M1200,31.6 L1521,30.6" stroke="#c9cdd0" stroke-width="1.4"/>
<path d="M1313,38 L1312,31 Q1312,27 1317,27 L1400,27 Q1405,27 1405,31 L1404,36 Q1403,38 1398,38 Z" fill="#bfc3c6" stroke="#5d6368" stroke-width="1"/>
<ellipse cx="1138" cy="97" rx="1.5" ry="2" fill="#3b4045"/>
<ellipse cx="1577.5" cy="95" rx="1.5" ry="2" fill="#3b4045"/>
<path d="M1141,530 C1141,548 1170,565 1220,565 L1495,565 C1546,565 1576,548 1576,530 L1576.0,514.0 L1572.4,516.5 L1568.8,518.6 L1565.2,520.5 L1561.7,522.1 L1558.1,523.5 L1554.5,524.8 L1550.9,525.9 L1547.3,527.0 L1543.8,527.9 L1540.2,528.8 L1536.6,529.5 L1533.0,530.2 L1529.4,530.9 L1525.8,531.4 L1522.2,531.9 L1518.7,532.4 L1515.1,532.8 L1511.5,533.1 L1507.9,533.4 L1504.3,533.6 L1500.8,533.8 L1497.2,533.9 L1493.6,534.0 L1490.0,534.0 L1232.0,534.0 L1228.2,534.0 L1224.4,533.9 L1220.6,533.8 L1216.8,533.6 L1213.0,533.4 L1209.2,533.1 L1205.5,532.8 L1201.7,532.4 L1197.9,531.9 L1194.1,531.4 L1190.3,530.9 L1186.5,530.2 L1182.7,529.5 L1178.9,528.8 L1175.1,527.9 L1171.3,527.0 L1167.5,525.9 L1163.8,524.8 L1160.0,523.5 L1156.2,522.1 L1152.4,520.5 L1148.6,518.6 L1144.8,516.5 L1141.0,514.0 Z" fill="#a6abaf"/>
<path d="M1144,533 C1150,546 1175,552.5 1220,552.5 L1495,552.5 C1540,552.5 1566,546 1573,533" stroke="#d3d6d9" stroke-width="1.4" fill="none"/>
<rect x="1302" y="551" width="6" height="4" fill="#7b8186"/><rect x="1409" y="551" width="6" height="4" fill="#7b8186"/>
<path d="M1141,120.0 L1141,527" stroke="#50565b" stroke-width="1.2"/>
<path d="M1576,120.0 L1576,527" stroke="#2a2f33" stroke-width="1.2"/>
<circle cx="1205" cy="107.5" r="2.8" fill="#d9dcd8" stroke="#70767a" stroke-width="0.9"/>
<circle cx="1358" cy="107.0" r="2.8" fill="#d9dcd8" stroke="#70767a" stroke-width="0.9"/>
<circle cx="1510" cy="106.5" r="2.8" fill="#d9dcd8" stroke="#70767a" stroke-width="0.9"/>
<circle cx="1218" cy="561.5" r="2.8" fill="#d9dcd8" stroke="#70767a" stroke-width="0.9"/>
<circle cx="1499" cy="561.0" r="2.8" fill="#d9dcd8" stroke="#70767a" stroke-width="0.9"/>
<ellipse cx="1359" cy="281" rx="47.5" ry="19.6" fill="url(#logog)" stroke="#47b56e" stroke-width="1"/>
<ellipse cx="1342.5" cy="280.2" rx="30.5" ry="12.6" fill="#262a72"/>
<ellipse cx="1342.5" cy="280.2" rx="28.3" ry="10.8" fill="#30338a" stroke="#d8dcf0" stroke-width="0.8"/>
<text x="1342.5" y="284.6" text-anchor="middle" font-family="Liberation Serif" font-style="italic" font-size="14.5" fill="#fff" stroke="#fff" stroke-width="0.3">Carrier</text>
<text x="1388.5" y="282.3" text-anchor="middle" font-family="Liberation Serif" font-size="4.6" fill="#3d4290" letter-spacing="-0.1">INFINITY<tspan fill="#3f93c6" dx="1.5">Series</tspan></text>
</svg>
<!-- AC END -->
</body></html>
